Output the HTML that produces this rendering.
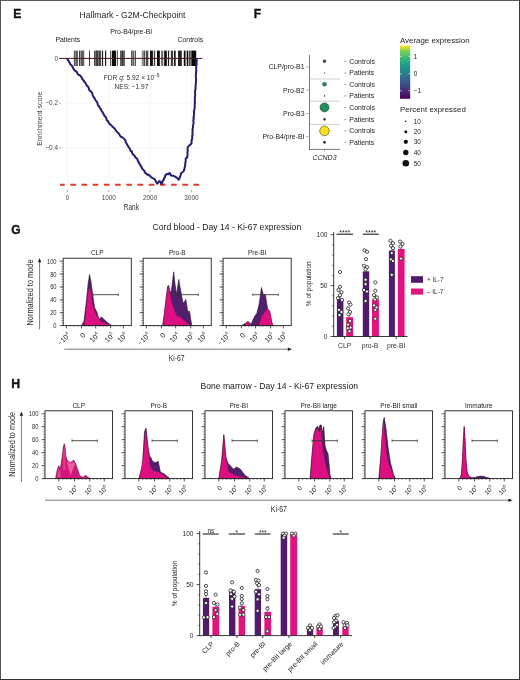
<!DOCTYPE html>
<html><head><meta charset="utf-8"><style>
html,body{margin:0;padding:0;background:#fff;}
body{width:520px;height:680px;overflow:hidden;}
svg{display:block;font-family:"Liberation Sans", sans-serif;will-change:transform;}
</style></head><body>
<svg width="520" height="680" viewBox="0 0 520 680">
<rect x="0" y="0" width="520" height="680" fill="#fff"/>
<text x="13.30" y="17.70" font-size="12" text-anchor="start" fill="#111" font-weight="bold" stroke="#111" stroke-width="0.35">E</text>
<text x="132.50" y="18.30" font-size="8.6" text-anchor="middle" fill="#1e1e1e" >Hallmark - G2M-Checkpoint</text>
<text x="131.20" y="34.40" font-size="6.9" text-anchor="middle" fill="#222" >Pro-B4/pre-BI</text>
<text x="55.40" y="42.00" font-size="6.9" text-anchor="start" fill="#1e1e1e" >Patients</text>
<text x="177.50" y="42.00" font-size="6.9" text-anchor="start" fill="#1e1e1e" >Controls</text>
<line x1="67.50" y1="45.00" x2="67.50" y2="192.00" stroke="#efefef" stroke-width="0.6" />
<line x1="108.80" y1="45.00" x2="108.80" y2="192.00" stroke="#efefef" stroke-width="0.6" />
<line x1="150.10" y1="45.00" x2="150.10" y2="192.00" stroke="#efefef" stroke-width="0.6" />
<line x1="191.40" y1="45.00" x2="191.40" y2="192.00" stroke="#efefef" stroke-width="0.6" />
<line x1="61.00" y1="103.10" x2="203.00" y2="103.10" stroke="#efefef" stroke-width="0.6" />
<line x1="61.00" y1="147.80" x2="203.00" y2="147.80" stroke="#efefef" stroke-width="0.6" />
<text x="58.00" y="60.60" font-size="6.4" text-anchor="end" fill="#444" >0</text>
<line x1="59.20" y1="58.40" x2="61.00" y2="58.40" stroke="#555" stroke-width="0.5" />
<text x="58.00" y="105.30" font-size="6.4" text-anchor="end" fill="#444" >−0.2</text>
<line x1="59.20" y1="103.10" x2="61.00" y2="103.10" stroke="#555" stroke-width="0.5" />
<text x="58.00" y="150.00" font-size="6.4" text-anchor="end" fill="#444" >−0.4</text>
<line x1="59.20" y1="147.80" x2="61.00" y2="147.80" stroke="#555" stroke-width="0.5" />
<text x="67.50" y="199.60" font-size="6.4" text-anchor="middle" fill="#444" >0</text>
<line x1="67.50" y1="190.20" x2="67.50" y2="192.20" stroke="#555" stroke-width="0.5" />
<text x="108.80" y="199.60" font-size="6.4" text-anchor="middle" fill="#444" >1000</text>
<line x1="108.80" y1="190.20" x2="108.80" y2="192.20" stroke="#555" stroke-width="0.5" />
<text x="150.10" y="199.60" font-size="6.4" text-anchor="middle" fill="#444" >2000</text>
<line x1="150.10" y1="190.20" x2="150.10" y2="192.20" stroke="#555" stroke-width="0.5" />
<text x="191.40" y="199.60" font-size="6.4" text-anchor="middle" fill="#444" >3000</text>
<line x1="191.40" y1="190.20" x2="191.40" y2="192.20" stroke="#555" stroke-width="0.5" />
<text x="131.30" y="210.10" font-size="8.2" text-anchor="middle" fill="#333" textLength="15.2" lengthAdjust="spacingAndGlyphs">Rank</text>
<text x="0.00" y="0.00" font-size="7.0" text-anchor="middle" fill="#444" transform="translate(41.6,118.6) rotate(-90)">Enrichment score</text>
<rect x="73.80" y="50.6" width="3.90" height="15.4" fill="#000" fill-opacity="0.45"/>
<rect x="74.40" y="50.6" width="0.50" height="15.4" fill="#000" fill-opacity="0.8"/>
<rect x="76.00" y="50.6" width="0.50" height="15.4" fill="#000" fill-opacity="0.8"/>
<rect x="77.10" y="50.6" width="0.50" height="15.4" fill="#000" fill-opacity="0.8"/>
<rect x="79.10" y="50.6" width="1.30" height="15.4" fill="#000" fill-opacity="0.85"/>
<rect x="80.80" y="50.6" width="3.40" height="15.4" fill="#000" fill-opacity="0.4"/>
<rect x="81.00" y="50.6" width="0.50" height="15.4" fill="#000" fill-opacity="0.8"/>
<rect x="82.50" y="50.6" width="0.50" height="15.4" fill="#000" fill-opacity="0.8"/>
<rect x="83.60" y="50.6" width="0.50" height="15.4" fill="#000" fill-opacity="0.8"/>
<rect x="89.10" y="50.6" width="0.90" height="15.4" fill="#000" fill-opacity="0.85"/>
<rect x="94.20" y="50.6" width="6.60" height="15.4" fill="#000" fill-opacity="0.55"/>
<rect x="94.50" y="50.6" width="0.50" height="15.4" fill="#000" fill-opacity="0.85"/>
<rect x="96.30" y="50.6" width="0.50" height="15.4" fill="#000" fill-opacity="0.85"/>
<rect x="97.50" y="50.6" width="0.50" height="15.4" fill="#000" fill-opacity="0.85"/>
<rect x="99.00" y="50.6" width="0.50" height="15.4" fill="#000" fill-opacity="0.85"/>
<rect x="100.20" y="50.6" width="0.50" height="15.4" fill="#000" fill-opacity="0.85"/>
<rect x="101.90" y="50.6" width="1.20" height="15.4" fill="#000" fill-opacity="0.9"/>
<rect x="105.00" y="50.6" width="1.20" height="15.4" fill="#000" fill-opacity="0.9"/>
<rect x="110.20" y="50.6" width="0.70" height="15.4" fill="#000" fill-opacity="0.9"/>
<rect x="111.80" y="50.6" width="4.30" height="15.4" fill="#000" fill-opacity="0.95"/>
<rect x="117.10" y="50.6" width="0.70" height="15.4" fill="#000" fill-opacity="0.9"/>
<rect x="120.30" y="50.6" width="4.20" height="15.4" fill="#000" fill-opacity="0.6"/>
<rect x="120.60" y="50.6" width="0.50" height="15.4" fill="#000" fill-opacity="0.9"/>
<rect x="122.10" y="50.6" width="0.50" height="15.4" fill="#000" fill-opacity="0.9"/>
<rect x="124.00" y="50.6" width="0.50" height="15.4" fill="#000" fill-opacity="0.9"/>
<rect x="131.10" y="50.6" width="3.10" height="15.4" fill="#000" fill-opacity="0.45"/>
<rect x="131.30" y="50.6" width="0.50" height="15.4" fill="#000" fill-opacity="0.8"/>
<rect x="133.60" y="50.6" width="0.50" height="15.4" fill="#000" fill-opacity="0.8"/>
<rect x="134.90" y="50.6" width="0.90" height="15.4" fill="#000" fill-opacity="0.85"/>
<rect x="141.80" y="50.6" width="3.10" height="15.4" fill="#000" fill-opacity="0.45"/>
<rect x="144.20" y="50.6" width="0.60" height="15.4" fill="#000" fill-opacity="0.8"/>
<rect x="145.70" y="50.6" width="2.60" height="15.4" fill="#000" fill-opacity="0.7"/>
<rect x="150.00" y="50.6" width="2.90" height="15.4" fill="#000" fill-opacity="0.92"/>
<rect x="153.80" y="50.6" width="1.40" height="15.4" fill="#000" fill-opacity="0.75"/>
<rect x="157.00" y="50.6" width="2.80" height="15.4" fill="#000" fill-opacity="0.97"/>
<rect x="161.00" y="50.6" width="2.30" height="15.4" fill="#000" fill-opacity="0.55"/>
<rect x="164.20" y="50.6" width="2.60" height="15.4" fill="#000" fill-opacity="0.97"/>
<rect x="167.90" y="50.6" width="1.20" height="15.4" fill="#000" fill-opacity="0.9"/>
<rect x="170.80" y="50.6" width="2.30" height="15.4" fill="#000" fill-opacity="0.75"/>
<rect x="174.00" y="50.6" width="1.70" height="15.4" fill="#000" fill-opacity="0.9"/>
<rect x="178.00" y="50.6" width="3.80" height="15.4" fill="#000" fill-opacity="0.85"/>
<rect x="183.80" y="50.6" width="1.70" height="15.4" fill="#000" fill-opacity="0.97"/>
<rect x="186.70" y="50.6" width="1.40" height="15.4" fill="#000" fill-opacity="0.97"/>
<rect x="188.70" y="50.6" width="2.00" height="15.4" fill="#000" fill-opacity="0.7"/>
<rect x="191.30" y="50.6" width="4.90" height="15.4" fill="#000" fill-opacity="0.97"/>
<line x1="59.20" y1="58.40" x2="202.40" y2="58.40" stroke="#4a1818" stroke-width="1.0" />
<line x1="60.00" y1="184.70" x2="200.00" y2="184.70" stroke="#e23a2a" stroke-width="1.9" stroke-dasharray="5.6,5.6" stroke-dashoffset="0.9"/>
<polyline points="66.90,58.40 67.62,59.52 68.34,60.64 69.06,61.76 69.57,62.63 70.24,64.21 71.10,65.18 71.87,65.65 72.51,66.75 72.99,67.93 74.11,69.56 74.43,70.27 76.27,71.38 76.94,72.41 77.73,74.07 78.87,75.00 79.57,75.05 80.79,76.33 81.45,77.20 82.12,78.89 82.74,79.82 83.62,80.18 84.56,82.23 85.45,82.89 86.08,84.26 87.12,85.91 87.76,86.28 88.65,87.82 89.02,89.25 89.63,90.74 90.73,91.10 91.28,91.87 92.10,92.85 92.71,95.12 93.22,96.53 94.06,97.52 94.64,98.61 95.60,100.23 96.10,100.96 96.79,101.63 97.63,103.71 97.87,105.20 98.77,105.84 99.31,106.58 99.77,108.04 100.91,109.13 101.35,110.48 102.47,112.10 102.97,112.91 103.98,114.69 104.72,116.20 105.20,116.56 106.23,117.80 106.62,120.14 107.51,120.55 108.49,122.13 109.51,124.07 110.75,124.71 111.94,125.92 113.11,127.43 114.27,128.02 115.13,129.45 116.43,131.03 117.31,132.26 117.94,132.85 119.01,133.74 119.61,134.99 120.60,136.49 122.23,137.28 123.34,138.05 124.52,139.44 125.50,140.54 125.75,142.56 126.55,143.25 127.09,144.61 128.30,146.49 128.71,147.12 129.19,147.75 130.01,149.28 130.66,151.13 131.85,151.17 132.09,153.04 133.12,154.56 134.79,156.04 135.42,157.58 136.02,157.80 137.06,158.73 137.84,160.57 138.28,161.61 139.52,163.61 140.18,164.99 140.89,166.32 141.51,166.87 141.97,168.42 142.87,169.34 144.12,170.66 144.97,172.64 146.29,173.61 147.17,174.64 148.34,174.61 149.47,175.53 151.04,177.07 152.49,177.98 153.68,178.71 154.60,178.92 156.17,182.07 157.29,183.65 159.17,181.05 160.38,181.57 160.99,183.46 162.17,183.66 162.24,182.68 162.76,180.41 163.68,180.07 164.30,177.64 164.79,177.44 165.33,175.19 166.71,173.98 168.24,174.31 169.56,172.84 170.37,173.81 170.83,175.46 173.08,175.65 174.60,176.34 175.85,177.06 177.45,178.18 178.47,179.80 179.49,178.37 180.25,176.39 180.62,174.95 180.91,173.43 182.31,172.32 183.98,170.71 184.06,169.66 184.39,169.16 184.65,167.32 185.09,166.36 185.24,164.45 185.19,163.29 185.44,162.66 185.72,161.01 185.65,160.14 185.80,158.36 187.22,157.52 187.22,156.02 187.56,154.64 187.63,153.54 187.36,152.46 187.87,150.51 187.48,149.49 187.77,147.07 189.34,145.40 191.20,143.70 191.52,143.28 191.60,140.99 191.44,140.28 192.12,139.18 192.30,136.84 192.21,135.67 192.60,135.09 192.47,132.58 192.53,131.74 192.63,129.95 192.57,129.34 192.94,127.76 192.98,125.67 193.21,125.17 193.57,123.09 193.65,122.80 193.31,120.55 193.70,119.16 193.39,118.18 193.95,117.09 193.66,116.32 194.15,114.06 194.12,113.33 193.83,111.33 194.16,110.85 194.56,108.66 194.58,108.13 194.71,106.03 194.82,104.69 194.60,103.90 195.06,102.72 194.68,101.00 194.84,100.04 194.86,98.09 194.95,96.64 195.07,95.65 195.13,94.91 195.12,93.18 195.09,91.60 195.15,90.11 195.54,89.42 195.56,87.29 195.40,86.97 195.66,85.45 195.94,83.64 195.79,82.14 196.12,81.19 196.07,79.35 196.00,78.50 195.87,76.72 195.78,74.88 196.19,73.54 195.88,72.44 196.33,70.85 196.27,70.59 196.06,68.41 196.23,67.07 196.27,65.52 196.68,64.15 196.53,63.62 196.60,61.44 196.70,59.92 196.80,58.40" fill="none" stroke="#221e70" stroke-width="2.0" stroke-linejoin="round" />
<text x="131.60" y="80.00" font-size="6.6" text-anchor="middle" fill="#333" >FDR <tspan font-style="italic">q</tspan>: 5.92 × 10<tspan dy="-2.6" font-size="4.6">−9</tspan></text>
<text x="131.50" y="88.60" font-size="6.6" text-anchor="middle" fill="#333" >NES: −1.97</text>
<text x="253.80" y="17.60" font-size="12" text-anchor="start" fill="#111" font-weight="bold" stroke="#111" stroke-width="0.35">F</text>
<line x1="309.50" y1="55.00" x2="309.50" y2="149.40" stroke="#555" stroke-width="0.8" />
<line x1="309.10" y1="149.40" x2="340.00" y2="149.40" stroke="#555" stroke-width="0.8" />
<line x1="324.50" y1="149.40" x2="324.50" y2="151.30" stroke="#555" stroke-width="0.6" />
<line x1="309.50" y1="79.00" x2="340.00" y2="79.00" stroke="#a8a8a8" stroke-width="0.55" />
<line x1="309.50" y1="101.20" x2="340.00" y2="101.20" stroke="#a8a8a8" stroke-width="0.55" />
<line x1="309.50" y1="124.40" x2="340.00" y2="124.40" stroke="#a8a8a8" stroke-width="0.55" />
<text x="304.50" y="69.30" font-size="6.9" text-anchor="end" fill="#222" >CLP/pro-B1</text>
<line x1="306.30" y1="66.90" x2="308.50" y2="66.90" stroke="#444" stroke-width="0.5" />
<text x="304.50" y="92.50" font-size="6.9" text-anchor="end" fill="#222" >Pro-B2</text>
<line x1="306.30" y1="90.10" x2="308.50" y2="90.10" stroke="#444" stroke-width="0.5" />
<text x="304.50" y="115.90" font-size="6.9" text-anchor="end" fill="#222" >Pro-B3</text>
<line x1="306.30" y1="113.50" x2="308.50" y2="113.50" stroke="#444" stroke-width="0.5" />
<text x="304.50" y="138.80" font-size="6.9" text-anchor="end" fill="#222" >Pro-B4/pre-BI</text>
<line x1="306.30" y1="136.40" x2="308.50" y2="136.40" stroke="#444" stroke-width="0.5" />
<line x1="344.30" y1="61.30" x2="346.50" y2="61.30" stroke="#444" stroke-width="0.5" />
<text x="349.30" y="63.70" font-size="6.9" text-anchor="start" fill="#222" >Controls</text>
<line x1="344.30" y1="72.90" x2="346.50" y2="72.90" stroke="#444" stroke-width="0.5" />
<text x="349.30" y="75.30" font-size="6.9" text-anchor="start" fill="#222" >Patients</text>
<line x1="344.30" y1="84.30" x2="346.50" y2="84.30" stroke="#444" stroke-width="0.5" />
<text x="349.30" y="86.70" font-size="6.9" text-anchor="start" fill="#222" >Controls</text>
<line x1="344.30" y1="95.90" x2="346.50" y2="95.90" stroke="#444" stroke-width="0.5" />
<text x="349.30" y="98.30" font-size="6.9" text-anchor="start" fill="#222" >Patients</text>
<line x1="344.30" y1="107.40" x2="346.50" y2="107.40" stroke="#444" stroke-width="0.5" />
<text x="349.30" y="109.80" font-size="6.9" text-anchor="start" fill="#222" >Controls</text>
<line x1="344.30" y1="119.30" x2="346.50" y2="119.30" stroke="#444" stroke-width="0.5" />
<text x="349.30" y="121.70" font-size="6.9" text-anchor="start" fill="#222" >Patients</text>
<line x1="344.30" y1="130.90" x2="346.50" y2="130.90" stroke="#444" stroke-width="0.5" />
<text x="349.30" y="133.30" font-size="6.9" text-anchor="start" fill="#222" >Controls</text>
<line x1="344.30" y1="142.30" x2="346.50" y2="142.30" stroke="#444" stroke-width="0.5" />
<text x="349.30" y="144.70" font-size="6.9" text-anchor="start" fill="#222" >Patients</text>
<circle cx="324.5" cy="61.3" r="1.45" fill="#2b4f55" stroke="#222" stroke-width="0.35"/>
<circle cx="324.5" cy="72.9" r="0.45" fill="#5a5a6a" stroke="#222" stroke-width="0.35"/>
<circle cx="324.5" cy="84.3" r="2.05" fill="#1f8a5e" stroke="#222" stroke-width="0.35"/>
<circle cx="324.5" cy="95.9" r="0.55" fill="#4a4a70" stroke="#222" stroke-width="0.35"/>
<circle cx="324.5" cy="107.4" r="4.5" fill="#1c9359" stroke="#222" stroke-width="0.5"/>
<circle cx="324.5" cy="119.3" r="1.1" fill="#26283f" stroke="#222" stroke-width="0.35"/>
<circle cx="324.5" cy="130.9" r="4.8" fill="#f7e11b" stroke="#222" stroke-width="0.5"/>
<circle cx="324.5" cy="142.3" r="1.2" fill="#1e2d6c" stroke="#222" stroke-width="0.35"/>
<text x="324.50" y="160.10" font-size="7.0" text-anchor="middle" fill="#222" font-style="italic" >CCND3</text>
<text x="400.00" y="42.60" font-size="7.9" text-anchor="start" fill="#222" >Average expression</text>
<defs><linearGradient id="vir" x1="0" y1="1" x2="0" y2="0"><stop offset="0" stop-color="#440154"/><stop offset="0.13" stop-color="#482878"/><stop offset="0.25" stop-color="#3e4989"/><stop offset="0.38" stop-color="#31688e"/><stop offset="0.5" stop-color="#26828e"/><stop offset="0.63" stop-color="#1f9e89"/><stop offset="0.75" stop-color="#35b779"/><stop offset="0.88" stop-color="#6ece58"/><stop offset="1" stop-color="#fde725"/></linearGradient></defs>
<rect x="400" y="45.5" width="10.2" height="53.3" fill="url(#vir)"/>
<line x1="400.00" y1="56.30" x2="401.80" y2="56.30" stroke="#fff" stroke-width="0.6" />
<line x1="408.40" y1="56.30" x2="410.20" y2="56.30" stroke="#fff" stroke-width="0.6" />
<text x="413.80" y="58.60" font-size="6.4" text-anchor="start" fill="#222" >1</text>
<line x1="400.00" y1="73.80" x2="401.80" y2="73.80" stroke="#fff" stroke-width="0.6" />
<line x1="408.40" y1="73.80" x2="410.20" y2="73.80" stroke="#fff" stroke-width="0.6" />
<text x="413.80" y="76.10" font-size="6.4" text-anchor="start" fill="#222" >0</text>
<line x1="400.00" y1="90.80" x2="401.80" y2="90.80" stroke="#fff" stroke-width="0.6" />
<line x1="408.40" y1="90.80" x2="410.20" y2="90.80" stroke="#fff" stroke-width="0.6" />
<text x="413.80" y="93.10" font-size="6.4" text-anchor="start" fill="#222" >−1</text>
<text x="400.00" y="112.20" font-size="7.9" text-anchor="start" fill="#222" >Percent expressed</text>
<circle cx="405.8" cy="121.3" r="0.8" fill="#111"/>
<text x="413.80" y="123.60" font-size="6.4" text-anchor="start" fill="#222" >10</text>
<circle cx="405.8" cy="131.8" r="1.5" fill="#111"/>
<text x="413.80" y="134.10" font-size="6.4" text-anchor="start" fill="#222" >20</text>
<circle cx="405.8" cy="141.8" r="2.15" fill="#111"/>
<text x="413.80" y="144.10" font-size="6.4" text-anchor="start" fill="#222" >30</text>
<circle cx="405.8" cy="152.5" r="2.7" fill="#111"/>
<text x="413.80" y="154.80" font-size="6.4" text-anchor="start" fill="#222" >40</text>
<circle cx="405.8" cy="163.3" r="3.3" fill="#111"/>
<text x="413.80" y="165.60" font-size="6.4" text-anchor="start" fill="#222" >50</text>
<text x="11.30" y="233.90" font-size="12" text-anchor="start" fill="#111" font-weight="bold" stroke="#111" stroke-width="0.35">G</text>
<text x="226.90" y="230.30" font-size="8.6" text-anchor="middle" fill="#1a1a1a" >Cord blood - Day 14 - Ki-67 expression</text>
<polygon points="81.60,325.60 84.00,321.00 86.50,300.00 88.20,283.00 89.60,274.50 91.00,282.00 92.50,293.30 94.60,307.70 96.80,312.00 99.00,319.20 101.80,317.00 104.00,319.50 106.20,321.40 111.20,325.60" fill="#521e6e" stroke="#2a1030" stroke-width="0.6" stroke-linejoin="round" />
<polygon points="83.80,325.60 85.50,318.00 87.00,300.00 88.80,288.20 90.00,289.00 91.00,291.80 92.00,300.00 93.20,307.70 96.00,314.00 100.40,320.70 104.00,322.50 108.00,324.00 111.20,325.60" fill="#de0f80" stroke="#8a1050" stroke-width="0.4" stroke-linejoin="round" />
<line x1="92.90" y1="294.70" x2="118.40" y2="294.70" stroke="#333" stroke-width="0.85" />
<line x1="92.90" y1="293.30" x2="92.90" y2="296.10" stroke="#3a3a3a" stroke-width="0.7" />
<line x1="118.40" y1="293.30" x2="118.40" y2="296.10" stroke="#3a3a3a" stroke-width="0.7" />
<rect x="63.20" y="258.20" width="68.10" height="67.40" fill="none" stroke="#222" stroke-width="0.9"/>
<line x1="59.60" y1="325.60" x2="63.20" y2="325.60" stroke="#222" stroke-width="0.7" />
<text x="56.60" y="328.10" font-size="7.0" text-anchor="end" fill="#2a2a2a" textLength="3.23" lengthAdjust="spacingAndGlyphs">0</text>
<line x1="59.60" y1="312.72" x2="63.20" y2="312.72" stroke="#222" stroke-width="0.7" />
<text x="56.60" y="315.22" font-size="7.0" text-anchor="end" fill="#2a2a2a" textLength="6.46" lengthAdjust="spacingAndGlyphs">20</text>
<line x1="59.60" y1="299.84" x2="63.20" y2="299.84" stroke="#222" stroke-width="0.7" />
<text x="56.60" y="302.34" font-size="7.0" text-anchor="end" fill="#2a2a2a" textLength="6.46" lengthAdjust="spacingAndGlyphs">40</text>
<line x1="59.60" y1="286.96" x2="63.20" y2="286.96" stroke="#222" stroke-width="0.7" />
<text x="56.60" y="289.46" font-size="7.0" text-anchor="end" fill="#2a2a2a" textLength="6.46" lengthAdjust="spacingAndGlyphs">60</text>
<line x1="59.60" y1="274.08" x2="63.20" y2="274.08" stroke="#222" stroke-width="0.7" />
<text x="56.60" y="276.58" font-size="7.0" text-anchor="end" fill="#2a2a2a" textLength="6.46" lengthAdjust="spacingAndGlyphs">80</text>
<line x1="59.60" y1="261.20" x2="63.20" y2="261.20" stroke="#222" stroke-width="0.7" />
<text x="56.60" y="263.70" font-size="7.0" text-anchor="end" fill="#2a2a2a" textLength="9.69" lengthAdjust="spacingAndGlyphs">100</text>
<line x1="61.40" y1="325.60" x2="63.20" y2="325.60" stroke="#222" stroke-width="0.5" />
<line x1="61.40" y1="323.02" x2="63.20" y2="323.02" stroke="#222" stroke-width="0.5" />
<line x1="61.40" y1="320.45" x2="63.20" y2="320.45" stroke="#222" stroke-width="0.5" />
<line x1="61.40" y1="317.87" x2="63.20" y2="317.87" stroke="#222" stroke-width="0.5" />
<line x1="61.40" y1="315.30" x2="63.20" y2="315.30" stroke="#222" stroke-width="0.5" />
<line x1="61.40" y1="312.72" x2="63.20" y2="312.72" stroke="#222" stroke-width="0.5" />
<line x1="61.40" y1="310.14" x2="63.20" y2="310.14" stroke="#222" stroke-width="0.5" />
<line x1="61.40" y1="307.57" x2="63.20" y2="307.57" stroke="#222" stroke-width="0.5" />
<line x1="61.40" y1="304.99" x2="63.20" y2="304.99" stroke="#222" stroke-width="0.5" />
<line x1="61.40" y1="302.42" x2="63.20" y2="302.42" stroke="#222" stroke-width="0.5" />
<line x1="61.40" y1="299.84" x2="63.20" y2="299.84" stroke="#222" stroke-width="0.5" />
<line x1="61.40" y1="297.26" x2="63.20" y2="297.26" stroke="#222" stroke-width="0.5" />
<line x1="61.40" y1="294.69" x2="63.20" y2="294.69" stroke="#222" stroke-width="0.5" />
<line x1="61.40" y1="292.11" x2="63.20" y2="292.11" stroke="#222" stroke-width="0.5" />
<line x1="61.40" y1="289.54" x2="63.20" y2="289.54" stroke="#222" stroke-width="0.5" />
<line x1="61.40" y1="286.96" x2="63.20" y2="286.96" stroke="#222" stroke-width="0.5" />
<line x1="61.40" y1="284.38" x2="63.20" y2="284.38" stroke="#222" stroke-width="0.5" />
<line x1="61.40" y1="281.81" x2="63.20" y2="281.81" stroke="#222" stroke-width="0.5" />
<line x1="61.40" y1="279.23" x2="63.20" y2="279.23" stroke="#222" stroke-width="0.5" />
<line x1="61.40" y1="276.66" x2="63.20" y2="276.66" stroke="#222" stroke-width="0.5" />
<line x1="61.40" y1="274.08" x2="63.20" y2="274.08" stroke="#222" stroke-width="0.5" />
<line x1="61.40" y1="271.50" x2="63.20" y2="271.50" stroke="#222" stroke-width="0.5" />
<line x1="61.40" y1="268.93" x2="63.20" y2="268.93" stroke="#222" stroke-width="0.5" />
<line x1="61.40" y1="266.35" x2="63.20" y2="266.35" stroke="#222" stroke-width="0.5" />
<line x1="61.40" y1="263.78" x2="63.20" y2="263.78" stroke="#222" stroke-width="0.5" />
<line x1="66.40" y1="325.60" x2="66.40" y2="328.40" stroke="#222" stroke-width="0.8" />
<text font-size="7.2" fill="#2a2a2a" text-anchor="end" transform="translate(70.70,335.60) rotate(-45)">−10<tspan font-size="4.46" dy="-3.24">4</tspan></text>
<line x1="81.50" y1="325.60" x2="81.50" y2="328.40" stroke="#222" stroke-width="0.8" />
<text font-size="7.2" fill="#2a2a2a" text-anchor="end" transform="translate(85.80,335.60) rotate(-45)">0</text>
<line x1="95.70" y1="325.60" x2="95.70" y2="328.40" stroke="#222" stroke-width="0.8" />
<text font-size="7.2" fill="#2a2a2a" text-anchor="end" transform="translate(100.00,335.60) rotate(-45)">10<tspan font-size="4.46" dy="-3.24">4</tspan></text>
<line x1="110.70" y1="325.60" x2="110.70" y2="328.40" stroke="#222" stroke-width="0.8" />
<text font-size="7.2" fill="#2a2a2a" text-anchor="end" transform="translate(115.00,335.60) rotate(-45)">10<tspan font-size="4.46" dy="-3.24">5</tspan></text>
<line x1="123.40" y1="325.60" x2="123.40" y2="328.40" stroke="#222" stroke-width="0.8" />
<text font-size="7.2" fill="#2a2a2a" text-anchor="end" transform="translate(127.70,335.60) rotate(-45)">10<tspan font-size="4.46" dy="-3.24">6</tspan></text>
<line x1="70.18" y1="325.60" x2="70.18" y2="327.00" stroke="#222" stroke-width="0.4" />
<line x1="73.95" y1="325.60" x2="73.95" y2="327.00" stroke="#222" stroke-width="0.4" />
<line x1="77.72" y1="325.60" x2="77.72" y2="327.00" stroke="#222" stroke-width="0.4" />
<line x1="85.05" y1="325.60" x2="85.05" y2="327.00" stroke="#222" stroke-width="0.4" />
<line x1="88.60" y1="325.60" x2="88.60" y2="327.00" stroke="#222" stroke-width="0.4" />
<line x1="92.15" y1="325.60" x2="92.15" y2="327.00" stroke="#222" stroke-width="0.4" />
<line x1="99.45" y1="325.60" x2="99.45" y2="327.00" stroke="#222" stroke-width="0.4" />
<line x1="103.20" y1="325.60" x2="103.20" y2="327.00" stroke="#222" stroke-width="0.4" />
<line x1="106.95" y1="325.60" x2="106.95" y2="327.00" stroke="#222" stroke-width="0.4" />
<line x1="113.88" y1="325.60" x2="113.88" y2="327.00" stroke="#222" stroke-width="0.4" />
<line x1="117.05" y1="325.60" x2="117.05" y2="327.00" stroke="#222" stroke-width="0.4" />
<line x1="120.23" y1="325.60" x2="120.23" y2="327.00" stroke="#222" stroke-width="0.4" />
<text x="97.25" y="255.30" font-size="6.5" text-anchor="middle" fill="#222" >CLP</text>
<polygon points="162.60,325.60 164.50,312.00 165.90,300.00 167.70,286.00 168.60,285.50 170.20,293.00 171.50,290.00 173.70,271.80 175.00,284.00 176.50,294.60 177.50,288.00 178.80,279.40 180.20,288.00 181.60,295.50 183.00,303.00 184.50,302.00 185.80,299.30 186.80,305.00 187.60,311.30 189.50,311.30 190.50,318.00 191.80,325.60" fill="#521e6e" stroke="#2a1030" stroke-width="0.6" stroke-linejoin="round" />
<polygon points="163.10,325.60 165.00,308.00 167.30,290.00 168.90,286.80 170.50,296.00 172.00,303.00 174.00,309.00 176.00,314.00 178.00,317.00 180.00,316.00 182.00,318.50 185.00,321.00 188.00,323.50 191.30,325.60" fill="#de0f80" stroke="#8a1050" stroke-width="0.4" stroke-linejoin="round" />
<line x1="172.85" y1="294.70" x2="198.35" y2="294.70" stroke="#333" stroke-width="0.85" />
<line x1="172.85" y1="293.30" x2="172.85" y2="296.10" stroke="#3a3a3a" stroke-width="0.7" />
<line x1="198.35" y1="293.30" x2="198.35" y2="296.10" stroke="#3a3a3a" stroke-width="0.7" />
<rect x="143.15" y="258.20" width="68.10" height="67.40" fill="none" stroke="#222" stroke-width="0.9"/>
<line x1="139.55" y1="325.60" x2="143.15" y2="325.60" stroke="#222" stroke-width="0.7" />
<line x1="139.55" y1="312.72" x2="143.15" y2="312.72" stroke="#222" stroke-width="0.7" />
<line x1="139.55" y1="299.84" x2="143.15" y2="299.84" stroke="#222" stroke-width="0.7" />
<line x1="139.55" y1="286.96" x2="143.15" y2="286.96" stroke="#222" stroke-width="0.7" />
<line x1="139.55" y1="274.08" x2="143.15" y2="274.08" stroke="#222" stroke-width="0.7" />
<line x1="139.55" y1="261.20" x2="143.15" y2="261.20" stroke="#222" stroke-width="0.7" />
<line x1="141.35" y1="325.60" x2="143.15" y2="325.60" stroke="#222" stroke-width="0.5" />
<line x1="141.35" y1="323.02" x2="143.15" y2="323.02" stroke="#222" stroke-width="0.5" />
<line x1="141.35" y1="320.45" x2="143.15" y2="320.45" stroke="#222" stroke-width="0.5" />
<line x1="141.35" y1="317.87" x2="143.15" y2="317.87" stroke="#222" stroke-width="0.5" />
<line x1="141.35" y1="315.30" x2="143.15" y2="315.30" stroke="#222" stroke-width="0.5" />
<line x1="141.35" y1="312.72" x2="143.15" y2="312.72" stroke="#222" stroke-width="0.5" />
<line x1="141.35" y1="310.14" x2="143.15" y2="310.14" stroke="#222" stroke-width="0.5" />
<line x1="141.35" y1="307.57" x2="143.15" y2="307.57" stroke="#222" stroke-width="0.5" />
<line x1="141.35" y1="304.99" x2="143.15" y2="304.99" stroke="#222" stroke-width="0.5" />
<line x1="141.35" y1="302.42" x2="143.15" y2="302.42" stroke="#222" stroke-width="0.5" />
<line x1="141.35" y1="299.84" x2="143.15" y2="299.84" stroke="#222" stroke-width="0.5" />
<line x1="141.35" y1="297.26" x2="143.15" y2="297.26" stroke="#222" stroke-width="0.5" />
<line x1="141.35" y1="294.69" x2="143.15" y2="294.69" stroke="#222" stroke-width="0.5" />
<line x1="141.35" y1="292.11" x2="143.15" y2="292.11" stroke="#222" stroke-width="0.5" />
<line x1="141.35" y1="289.54" x2="143.15" y2="289.54" stroke="#222" stroke-width="0.5" />
<line x1="141.35" y1="286.96" x2="143.15" y2="286.96" stroke="#222" stroke-width="0.5" />
<line x1="141.35" y1="284.38" x2="143.15" y2="284.38" stroke="#222" stroke-width="0.5" />
<line x1="141.35" y1="281.81" x2="143.15" y2="281.81" stroke="#222" stroke-width="0.5" />
<line x1="141.35" y1="279.23" x2="143.15" y2="279.23" stroke="#222" stroke-width="0.5" />
<line x1="141.35" y1="276.66" x2="143.15" y2="276.66" stroke="#222" stroke-width="0.5" />
<line x1="141.35" y1="274.08" x2="143.15" y2="274.08" stroke="#222" stroke-width="0.5" />
<line x1="141.35" y1="271.50" x2="143.15" y2="271.50" stroke="#222" stroke-width="0.5" />
<line x1="141.35" y1="268.93" x2="143.15" y2="268.93" stroke="#222" stroke-width="0.5" />
<line x1="141.35" y1="266.35" x2="143.15" y2="266.35" stroke="#222" stroke-width="0.5" />
<line x1="141.35" y1="263.78" x2="143.15" y2="263.78" stroke="#222" stroke-width="0.5" />
<line x1="146.35" y1="325.60" x2="146.35" y2="328.40" stroke="#222" stroke-width="0.8" />
<text font-size="7.2" fill="#2a2a2a" text-anchor="end" transform="translate(150.65,335.60) rotate(-45)">−10<tspan font-size="4.46" dy="-3.24">4</tspan></text>
<line x1="161.45" y1="325.60" x2="161.45" y2="328.40" stroke="#222" stroke-width="0.8" />
<text font-size="7.2" fill="#2a2a2a" text-anchor="end" transform="translate(165.75,335.60) rotate(-45)">0</text>
<line x1="175.65" y1="325.60" x2="175.65" y2="328.40" stroke="#222" stroke-width="0.8" />
<text font-size="7.2" fill="#2a2a2a" text-anchor="end" transform="translate(179.95,335.60) rotate(-45)">10<tspan font-size="4.46" dy="-3.24">4</tspan></text>
<line x1="190.65" y1="325.60" x2="190.65" y2="328.40" stroke="#222" stroke-width="0.8" />
<text font-size="7.2" fill="#2a2a2a" text-anchor="end" transform="translate(194.95,335.60) rotate(-45)">10<tspan font-size="4.46" dy="-3.24">5</tspan></text>
<line x1="203.35" y1="325.60" x2="203.35" y2="328.40" stroke="#222" stroke-width="0.8" />
<text font-size="7.2" fill="#2a2a2a" text-anchor="end" transform="translate(207.65,335.60) rotate(-45)">10<tspan font-size="4.46" dy="-3.24">6</tspan></text>
<line x1="150.12" y1="325.60" x2="150.12" y2="327.00" stroke="#222" stroke-width="0.4" />
<line x1="153.90" y1="325.60" x2="153.90" y2="327.00" stroke="#222" stroke-width="0.4" />
<line x1="157.68" y1="325.60" x2="157.68" y2="327.00" stroke="#222" stroke-width="0.4" />
<line x1="165.00" y1="325.60" x2="165.00" y2="327.00" stroke="#222" stroke-width="0.4" />
<line x1="168.55" y1="325.60" x2="168.55" y2="327.00" stroke="#222" stroke-width="0.4" />
<line x1="172.10" y1="325.60" x2="172.10" y2="327.00" stroke="#222" stroke-width="0.4" />
<line x1="179.40" y1="325.60" x2="179.40" y2="327.00" stroke="#222" stroke-width="0.4" />
<line x1="183.15" y1="325.60" x2="183.15" y2="327.00" stroke="#222" stroke-width="0.4" />
<line x1="186.90" y1="325.60" x2="186.90" y2="327.00" stroke="#222" stroke-width="0.4" />
<line x1="193.83" y1="325.60" x2="193.83" y2="327.00" stroke="#222" stroke-width="0.4" />
<line x1="197.00" y1="325.60" x2="197.00" y2="327.00" stroke="#222" stroke-width="0.4" />
<line x1="200.18" y1="325.60" x2="200.18" y2="327.00" stroke="#222" stroke-width="0.4" />
<text x="177.20" y="255.30" font-size="6.5" text-anchor="middle" fill="#222" >Pro-B</text>
<polygon points="241.60,325.60 245.20,323.60 248.10,321.40 251.00,324.30 254.60,316.30 256.80,313.50 259.00,304.80 261.50,287.50 263.30,294.70 265.40,294.70 267.60,309.10 269.80,311.30 271.90,323.60 273.40,325.60" fill="#521e6e" stroke="#2a1030" stroke-width="0.6" stroke-linejoin="round" />
<polygon points="244.50,325.60 248.10,321.40 250.30,325.00 259.00,325.00 261.10,317.80 264.70,312.00 267.60,308.40 269.80,312.00 271.90,322.10 273.40,325.60" fill="#de0f80" stroke="#8a1050" stroke-width="0.4" stroke-linejoin="round" />
<line x1="252.80" y1="294.70" x2="278.30" y2="294.70" stroke="#333" stroke-width="0.85" />
<line x1="252.80" y1="293.30" x2="252.80" y2="296.10" stroke="#3a3a3a" stroke-width="0.7" />
<line x1="278.30" y1="293.30" x2="278.30" y2="296.10" stroke="#3a3a3a" stroke-width="0.7" />
<rect x="223.10" y="258.20" width="68.10" height="67.40" fill="none" stroke="#222" stroke-width="0.9"/>
<line x1="219.50" y1="325.60" x2="223.10" y2="325.60" stroke="#222" stroke-width="0.7" />
<line x1="219.50" y1="312.72" x2="223.10" y2="312.72" stroke="#222" stroke-width="0.7" />
<line x1="219.50" y1="299.84" x2="223.10" y2="299.84" stroke="#222" stroke-width="0.7" />
<line x1="219.50" y1="286.96" x2="223.10" y2="286.96" stroke="#222" stroke-width="0.7" />
<line x1="219.50" y1="274.08" x2="223.10" y2="274.08" stroke="#222" stroke-width="0.7" />
<line x1="219.50" y1="261.20" x2="223.10" y2="261.20" stroke="#222" stroke-width="0.7" />
<line x1="221.30" y1="325.60" x2="223.10" y2="325.60" stroke="#222" stroke-width="0.5" />
<line x1="221.30" y1="323.02" x2="223.10" y2="323.02" stroke="#222" stroke-width="0.5" />
<line x1="221.30" y1="320.45" x2="223.10" y2="320.45" stroke="#222" stroke-width="0.5" />
<line x1="221.30" y1="317.87" x2="223.10" y2="317.87" stroke="#222" stroke-width="0.5" />
<line x1="221.30" y1="315.30" x2="223.10" y2="315.30" stroke="#222" stroke-width="0.5" />
<line x1="221.30" y1="312.72" x2="223.10" y2="312.72" stroke="#222" stroke-width="0.5" />
<line x1="221.30" y1="310.14" x2="223.10" y2="310.14" stroke="#222" stroke-width="0.5" />
<line x1="221.30" y1="307.57" x2="223.10" y2="307.57" stroke="#222" stroke-width="0.5" />
<line x1="221.30" y1="304.99" x2="223.10" y2="304.99" stroke="#222" stroke-width="0.5" />
<line x1="221.30" y1="302.42" x2="223.10" y2="302.42" stroke="#222" stroke-width="0.5" />
<line x1="221.30" y1="299.84" x2="223.10" y2="299.84" stroke="#222" stroke-width="0.5" />
<line x1="221.30" y1="297.26" x2="223.10" y2="297.26" stroke="#222" stroke-width="0.5" />
<line x1="221.30" y1="294.69" x2="223.10" y2="294.69" stroke="#222" stroke-width="0.5" />
<line x1="221.30" y1="292.11" x2="223.10" y2="292.11" stroke="#222" stroke-width="0.5" />
<line x1="221.30" y1="289.54" x2="223.10" y2="289.54" stroke="#222" stroke-width="0.5" />
<line x1="221.30" y1="286.96" x2="223.10" y2="286.96" stroke="#222" stroke-width="0.5" />
<line x1="221.30" y1="284.38" x2="223.10" y2="284.38" stroke="#222" stroke-width="0.5" />
<line x1="221.30" y1="281.81" x2="223.10" y2="281.81" stroke="#222" stroke-width="0.5" />
<line x1="221.30" y1="279.23" x2="223.10" y2="279.23" stroke="#222" stroke-width="0.5" />
<line x1="221.30" y1="276.66" x2="223.10" y2="276.66" stroke="#222" stroke-width="0.5" />
<line x1="221.30" y1="274.08" x2="223.10" y2="274.08" stroke="#222" stroke-width="0.5" />
<line x1="221.30" y1="271.50" x2="223.10" y2="271.50" stroke="#222" stroke-width="0.5" />
<line x1="221.30" y1="268.93" x2="223.10" y2="268.93" stroke="#222" stroke-width="0.5" />
<line x1="221.30" y1="266.35" x2="223.10" y2="266.35" stroke="#222" stroke-width="0.5" />
<line x1="221.30" y1="263.78" x2="223.10" y2="263.78" stroke="#222" stroke-width="0.5" />
<line x1="226.30" y1="325.60" x2="226.30" y2="328.40" stroke="#222" stroke-width="0.8" />
<text font-size="7.2" fill="#2a2a2a" text-anchor="end" transform="translate(230.60,335.60) rotate(-45)">−10<tspan font-size="4.46" dy="-3.24">4</tspan></text>
<line x1="241.40" y1="325.60" x2="241.40" y2="328.40" stroke="#222" stroke-width="0.8" />
<text font-size="7.2" fill="#2a2a2a" text-anchor="end" transform="translate(245.70,335.60) rotate(-45)">0</text>
<line x1="255.60" y1="325.60" x2="255.60" y2="328.40" stroke="#222" stroke-width="0.8" />
<text font-size="7.2" fill="#2a2a2a" text-anchor="end" transform="translate(259.90,335.60) rotate(-45)">10<tspan font-size="4.46" dy="-3.24">4</tspan></text>
<line x1="270.60" y1="325.60" x2="270.60" y2="328.40" stroke="#222" stroke-width="0.8" />
<text font-size="7.2" fill="#2a2a2a" text-anchor="end" transform="translate(274.90,335.60) rotate(-45)">10<tspan font-size="4.46" dy="-3.24">5</tspan></text>
<line x1="283.30" y1="325.60" x2="283.30" y2="328.40" stroke="#222" stroke-width="0.8" />
<text font-size="7.2" fill="#2a2a2a" text-anchor="end" transform="translate(287.60,335.60) rotate(-45)">10<tspan font-size="4.46" dy="-3.24">6</tspan></text>
<line x1="230.07" y1="325.60" x2="230.07" y2="327.00" stroke="#222" stroke-width="0.4" />
<line x1="233.85" y1="325.60" x2="233.85" y2="327.00" stroke="#222" stroke-width="0.4" />
<line x1="237.62" y1="325.60" x2="237.62" y2="327.00" stroke="#222" stroke-width="0.4" />
<line x1="244.95" y1="325.60" x2="244.95" y2="327.00" stroke="#222" stroke-width="0.4" />
<line x1="248.50" y1="325.60" x2="248.50" y2="327.00" stroke="#222" stroke-width="0.4" />
<line x1="252.05" y1="325.60" x2="252.05" y2="327.00" stroke="#222" stroke-width="0.4" />
<line x1="259.35" y1="325.60" x2="259.35" y2="327.00" stroke="#222" stroke-width="0.4" />
<line x1="263.10" y1="325.60" x2="263.10" y2="327.00" stroke="#222" stroke-width="0.4" />
<line x1="266.85" y1="325.60" x2="266.85" y2="327.00" stroke="#222" stroke-width="0.4" />
<line x1="273.78" y1="325.60" x2="273.78" y2="327.00" stroke="#222" stroke-width="0.4" />
<line x1="276.95" y1="325.60" x2="276.95" y2="327.00" stroke="#222" stroke-width="0.4" />
<line x1="280.12" y1="325.60" x2="280.12" y2="327.00" stroke="#222" stroke-width="0.4" />
<text x="257.15" y="255.30" font-size="6.5" text-anchor="middle" fill="#222" >Pre-BI</text>
<line x1="39.60" y1="329.40" x2="39.60" y2="261.00" stroke="#444" stroke-width="0.7" />
<polygon points="39.60,258.00 37.90,262.20 41.30,262.20" fill="#222" stroke="none" stroke-width="0.6" stroke-linejoin="round" />
<line x1="64.40" y1="349.20" x2="289.00" y2="349.20" stroke="#444" stroke-width="0.7" />
<polygon points="292.00,349.20 287.80,347.50 287.80,350.90" fill="#222" stroke="none" stroke-width="0.6" stroke-linejoin="round" />
<text x="0.00" y="0.00" font-size="8.6" text-anchor="middle" fill="#2a2a2a" textLength="66" lengthAdjust="spacingAndGlyphs" transform="translate(32.8,292.5) rotate(-90)">Normalized to mode</text>
<text x="176.70" y="360.60" font-size="8.6" text-anchor="middle" fill="#2a2a2a" textLength="15.9" lengthAdjust="spacingAndGlyphs">Ki-67</text>
<rect x="336.90" y="298.83" width="6.50" height="37.67" fill="#521a6c"/>
<line x1="340.15" y1="298.83" x2="340.15" y2="295.33" stroke="#333" stroke-width="0.6" />
<line x1="338.55" y1="295.33" x2="341.75" y2="295.33" stroke="#333" stroke-width="0.6" />
<rect x="346.20" y="317.16" width="6.90" height="19.34" fill="#e2137f"/>
<line x1="349.65" y1="317.16" x2="349.65" y2="314.66" stroke="#333" stroke-width="0.6" />
<line x1="348.05" y1="314.66" x2="351.25" y2="314.66" stroke="#333" stroke-width="0.6" />
<rect x="362.80" y="271.35" width="6.40" height="65.15" fill="#521a6c"/>
<line x1="366.00" y1="271.35" x2="366.00" y2="267.35" stroke="#333" stroke-width="0.6" />
<line x1="364.40" y1="267.35" x2="367.60" y2="267.35" stroke="#333" stroke-width="0.6" />
<rect x="372.00" y="299.34" width="6.90" height="37.16" fill="#e2137f"/>
<line x1="375.45" y1="299.34" x2="375.45" y2="296.34" stroke="#333" stroke-width="0.6" />
<line x1="373.85" y1="296.34" x2="377.05" y2="296.34" stroke="#333" stroke-width="0.6" />
<rect x="388.90" y="250.48" width="6.00" height="86.02" fill="#521a6c"/>
<line x1="391.90" y1="250.48" x2="391.90" y2="246.98" stroke="#333" stroke-width="0.6" />
<line x1="390.30" y1="246.98" x2="393.50" y2="246.98" stroke="#333" stroke-width="0.6" />
<rect x="397.80" y="248.95" width="6.80" height="87.55" fill="#e2137f"/>
<line x1="401.20" y1="248.95" x2="401.20" y2="246.45" stroke="#333" stroke-width="0.6" />
<line x1="399.60" y1="246.45" x2="402.80" y2="246.45" stroke="#333" stroke-width="0.6" />
<circle cx="340.00" cy="272.00" r="1.6" fill="#fff" stroke="#222" stroke-width="0.8"/>
<circle cx="340.00" cy="286.80" r="1.6" fill="#fff" stroke="#222" stroke-width="0.8"/>
<circle cx="338.50" cy="290.00" r="1.6" fill="#fff" stroke="#222" stroke-width="0.8"/>
<circle cx="341.50" cy="292.20" r="1.6" fill="#fff" stroke="#222" stroke-width="0.8"/>
<circle cx="340.00" cy="295.10" r="1.6" fill="#fff" stroke="#222" stroke-width="0.8"/>
<circle cx="338.00" cy="298.10" r="1.6" fill="#fff" stroke="#222" stroke-width="0.8"/>
<circle cx="342.00" cy="300.00" r="1.6" fill="#fff" stroke="#222" stroke-width="0.8"/>
<circle cx="339.00" cy="309.90" r="1.6" fill="#fff" stroke="#222" stroke-width="0.8"/>
<circle cx="341.50" cy="312.00" r="1.6" fill="#fff" stroke="#222" stroke-width="0.8"/>
<circle cx="339.50" cy="315.00" r="1.6" fill="#fff" stroke="#222" stroke-width="0.8"/>
<circle cx="349.10" cy="302.50" r="1.6" fill="#fff" stroke="#222" stroke-width="0.8"/>
<circle cx="350.50" cy="304.70" r="1.6" fill="#fff" stroke="#222" stroke-width="0.8"/>
<circle cx="348.00" cy="308.40" r="1.6" fill="#fff" stroke="#222" stroke-width="0.8"/>
<circle cx="350.00" cy="312.00" r="1.6" fill="#fff" stroke="#222" stroke-width="0.8"/>
<circle cx="348.50" cy="314.30" r="1.6" fill="#fff" stroke="#222" stroke-width="0.8"/>
<circle cx="350.00" cy="320.90" r="1.6" fill="#fff" stroke="#222" stroke-width="0.8"/>
<circle cx="348.00" cy="324.60" r="1.6" fill="#fff" stroke="#222" stroke-width="0.8"/>
<circle cx="350.50" cy="327.50" r="1.6" fill="#fff" stroke="#222" stroke-width="0.8"/>
<circle cx="347.80" cy="328.20" r="1.6" fill="#fff" stroke="#222" stroke-width="0.8"/>
<circle cx="349.50" cy="331.20" r="1.6" fill="#fff" stroke="#222" stroke-width="0.8"/>
<circle cx="364.50" cy="250.30" r="1.6" fill="#fff" stroke="#222" stroke-width="0.8"/>
<circle cx="367.00" cy="251.80" r="1.6" fill="#fff" stroke="#222" stroke-width="0.8"/>
<circle cx="366.00" cy="259.10" r="1.6" fill="#fff" stroke="#222" stroke-width="0.8"/>
<circle cx="364.00" cy="265.70" r="1.6" fill="#fff" stroke="#222" stroke-width="0.8"/>
<circle cx="367.00" cy="267.20" r="1.6" fill="#fff" stroke="#222" stroke-width="0.8"/>
<circle cx="365.60" cy="269.40" r="1.6" fill="#fff" stroke="#222" stroke-width="0.8"/>
<circle cx="365.60" cy="279.70" r="1.6" fill="#fff" stroke="#222" stroke-width="0.8"/>
<circle cx="365.60" cy="284.10" r="1.6" fill="#fff" stroke="#222" stroke-width="0.8"/>
<circle cx="364.00" cy="290.00" r="1.6" fill="#fff" stroke="#222" stroke-width="0.8"/>
<circle cx="367.00" cy="291.50" r="1.6" fill="#fff" stroke="#222" stroke-width="0.8"/>
<circle cx="365.60" cy="301.00" r="1.6" fill="#fff" stroke="#222" stroke-width="0.8"/>
<circle cx="375.30" cy="282.40" r="1.6" fill="#fff" stroke="#222" stroke-width="0.8"/>
<circle cx="375.30" cy="290.70" r="1.6" fill="#fff" stroke="#222" stroke-width="0.8"/>
<circle cx="374.00" cy="295.10" r="1.6" fill="#fff" stroke="#222" stroke-width="0.8"/>
<circle cx="377.00" cy="297.40" r="1.6" fill="#fff" stroke="#222" stroke-width="0.8"/>
<circle cx="375.00" cy="299.60" r="1.6" fill="#fff" stroke="#222" stroke-width="0.8"/>
<circle cx="374.00" cy="305.40" r="1.6" fill="#fff" stroke="#222" stroke-width="0.8"/>
<circle cx="376.50" cy="307.60" r="1.6" fill="#fff" stroke="#222" stroke-width="0.8"/>
<circle cx="375.30" cy="309.90" r="1.6" fill="#fff" stroke="#222" stroke-width="0.8"/>
<circle cx="375.30" cy="318.70" r="1.6" fill="#fff" stroke="#222" stroke-width="0.8"/>
<circle cx="390.50" cy="240.80" r="1.6" fill="#fff" stroke="#222" stroke-width="0.8"/>
<circle cx="393.00" cy="243.20" r="1.6" fill="#fff" stroke="#222" stroke-width="0.8"/>
<circle cx="391.00" cy="245.70" r="1.6" fill="#fff" stroke="#222" stroke-width="0.8"/>
<circle cx="393.00" cy="248.10" r="1.6" fill="#fff" stroke="#222" stroke-width="0.8"/>
<circle cx="391.80" cy="253.00" r="1.6" fill="#fff" stroke="#222" stroke-width="0.8"/>
<circle cx="391.00" cy="259.40" r="1.6" fill="#fff" stroke="#222" stroke-width="0.8"/>
<circle cx="393.00" cy="261.00" r="1.6" fill="#fff" stroke="#222" stroke-width="0.8"/>
<circle cx="391.80" cy="274.80" r="1.6" fill="#fff" stroke="#222" stroke-width="0.8"/>
<circle cx="400.00" cy="241.60" r="1.6" fill="#fff" stroke="#222" stroke-width="0.8"/>
<circle cx="402.50" cy="244.00" r="1.6" fill="#fff" stroke="#222" stroke-width="0.8"/>
<circle cx="400.50" cy="246.50" r="1.6" fill="#fff" stroke="#222" stroke-width="0.8"/>
<circle cx="401.00" cy="258.60" r="1.6" fill="#fff" stroke="#222" stroke-width="0.8"/>
<line x1="333.70" y1="232.10" x2="333.70" y2="336.90" stroke="#222" stroke-width="0.9" />
<line x1="333.30" y1="336.50" x2="407.50" y2="336.50" stroke="#222" stroke-width="0.9" />
<line x1="330.50" y1="336.50" x2="333.70" y2="336.50" stroke="#222" stroke-width="0.8" />
<text x="327.50" y="338.85" font-size="6.6" text-anchor="end" fill="#2a2a2a" >0</text>
<line x1="330.50" y1="285.60" x2="333.70" y2="285.60" stroke="#222" stroke-width="0.8" />
<text x="327.50" y="287.95" font-size="6.6" text-anchor="end" fill="#2a2a2a" >50</text>
<line x1="330.50" y1="234.70" x2="333.70" y2="234.70" stroke="#222" stroke-width="0.8" />
<text x="327.50" y="237.05" font-size="6.6" text-anchor="end" fill="#2a2a2a" >100</text>
<line x1="331.90" y1="326.32" x2="333.70" y2="326.32" stroke="#222" stroke-width="0.5" />
<line x1="331.90" y1="316.14" x2="333.70" y2="316.14" stroke="#222" stroke-width="0.5" />
<line x1="331.90" y1="305.96" x2="333.70" y2="305.96" stroke="#222" stroke-width="0.5" />
<line x1="331.90" y1="295.78" x2="333.70" y2="295.78" stroke="#222" stroke-width="0.5" />
<line x1="331.90" y1="275.42" x2="333.70" y2="275.42" stroke="#222" stroke-width="0.5" />
<line x1="331.90" y1="265.24" x2="333.70" y2="265.24" stroke="#222" stroke-width="0.5" />
<line x1="331.90" y1="255.06" x2="333.70" y2="255.06" stroke="#222" stroke-width="0.5" />
<line x1="331.90" y1="244.88" x2="333.70" y2="244.88" stroke="#222" stroke-width="0.5" />
<line x1="336.50" y1="234.20" x2="353.00" y2="234.20" stroke="#222" stroke-width="1.1" />
<text x="344.75" y="235.20" font-size="7.0" text-anchor="middle" fill="#222" >****</text>
<line x1="362.80" y1="234.20" x2="378.80" y2="234.20" stroke="#222" stroke-width="1.1" />
<text x="370.80" y="235.20" font-size="7.0" text-anchor="middle" fill="#222" >****</text>
<line x1="344.70" y1="336.50" x2="344.70" y2="339.00" stroke="#222" stroke-width="0.8" />
<text x="344.70" y="347.60" font-size="6.8" text-anchor="middle" fill="#333" >CLP</text>
<line x1="370.00" y1="336.50" x2="370.00" y2="339.00" stroke="#222" stroke-width="0.8" />
<text x="370.00" y="347.60" font-size="6.8" text-anchor="middle" fill="#333" >pro-B</text>
<line x1="396.20" y1="336.50" x2="396.20" y2="339.00" stroke="#222" stroke-width="0.8" />
<text x="396.20" y="347.60" font-size="6.8" text-anchor="middle" fill="#333" >pre-BI</text>
<text x="0.00" y="0.00" font-size="6.5" text-anchor="middle" fill="#2a2a2a" transform="translate(310.6,283.8) rotate(-90)">% of population</text>
<rect x="411" y="276.2" width="12" height="6.6" fill="#521a6c"/>
<rect x="411" y="288.5" width="12" height="6.1" fill="#e2137f"/>
<text x="427.00" y="281.80" font-size="6.4" text-anchor="start" fill="#333" >+ IL-7</text>
<text x="427.00" y="294.00" font-size="6.4" text-anchor="start" fill="#333" >– IL-7</text>
<text x="11.30" y="387.70" font-size="12.3" text-anchor="start" fill="#111" font-weight="bold" stroke="#111" stroke-width="0.35">H</text>
<text x="279.30" y="388.80" font-size="8.6" text-anchor="middle" fill="#1a1a1a" >Bone marrow - Day 14 - Ki-67 expression</text>
<polygon points="55.60,478.60 57.20,470.00 58.70,465.70 60.40,468.70 62.00,458.00 63.30,447.00 64.30,443.70 65.20,448.00 66.00,456.60 67.30,460.50 70.30,462.70 72.50,461.00 73.80,460.10 75.50,463.50 77.70,469.60 79.80,475.70 82.90,477.40 85.90,475.20 88.10,477.40 90.70,478.60" fill="#d3167a" stroke="#5a1040" stroke-width="0.6" stroke-linejoin="round" />
<polygon points="66.60,461.50 68.50,468.00 70.80,475.60 73.00,469.00 75.00,464.50 73.80,461.80 72.00,462.60 70.30,463.80 68.20,462.00" fill="#ea5fa4" stroke="none" stroke-width="0.6" stroke-linejoin="round" />
<polygon points="63.20,452.00 64.30,446.50 65.40,452.00 65.60,470.00 63.00,470.00" fill="#e04a95" stroke="none" stroke-width="0.6" stroke-linejoin="round" fill-opacity="0.7"/>
<polygon points="57.50,474.00 58.80,468.50 60.30,471.00 61.00,477.50 57.50,477.50" fill="#e85a9f" stroke="none" stroke-width="0.6" stroke-linejoin="round" fill-opacity="0.7"/>
<rect x="45.00" y="410.80" width="67.50" height="67.80" fill="none" stroke="#222" stroke-width="0.9"/>
<line x1="41.40" y1="478.60" x2="45.00" y2="478.60" stroke="#222" stroke-width="0.7" />
<text x="38.40" y="481.10" font-size="7.0" text-anchor="end" fill="#2a2a2a" textLength="3.23" lengthAdjust="spacingAndGlyphs">0</text>
<line x1="41.40" y1="465.62" x2="45.00" y2="465.62" stroke="#222" stroke-width="0.7" />
<text x="38.40" y="468.12" font-size="7.0" text-anchor="end" fill="#2a2a2a" textLength="6.46" lengthAdjust="spacingAndGlyphs">20</text>
<line x1="41.40" y1="452.64" x2="45.00" y2="452.64" stroke="#222" stroke-width="0.7" />
<text x="38.40" y="455.14" font-size="7.0" text-anchor="end" fill="#2a2a2a" textLength="6.46" lengthAdjust="spacingAndGlyphs">40</text>
<line x1="41.40" y1="439.66" x2="45.00" y2="439.66" stroke="#222" stroke-width="0.7" />
<text x="38.40" y="442.16" font-size="7.0" text-anchor="end" fill="#2a2a2a" textLength="6.46" lengthAdjust="spacingAndGlyphs">60</text>
<line x1="41.40" y1="426.68" x2="45.00" y2="426.68" stroke="#222" stroke-width="0.7" />
<text x="38.40" y="429.18" font-size="7.0" text-anchor="end" fill="#2a2a2a" textLength="6.46" lengthAdjust="spacingAndGlyphs">80</text>
<line x1="41.40" y1="413.70" x2="45.00" y2="413.70" stroke="#222" stroke-width="0.7" />
<text x="38.40" y="416.20" font-size="7.0" text-anchor="end" fill="#2a2a2a" textLength="9.69" lengthAdjust="spacingAndGlyphs">100</text>
<line x1="43.20" y1="478.60" x2="45.00" y2="478.60" stroke="#222" stroke-width="0.5" />
<line x1="43.20" y1="476.00" x2="45.00" y2="476.00" stroke="#222" stroke-width="0.5" />
<line x1="43.20" y1="473.41" x2="45.00" y2="473.41" stroke="#222" stroke-width="0.5" />
<line x1="43.20" y1="470.81" x2="45.00" y2="470.81" stroke="#222" stroke-width="0.5" />
<line x1="43.20" y1="468.22" x2="45.00" y2="468.22" stroke="#222" stroke-width="0.5" />
<line x1="43.20" y1="465.62" x2="45.00" y2="465.62" stroke="#222" stroke-width="0.5" />
<line x1="43.20" y1="463.02" x2="45.00" y2="463.02" stroke="#222" stroke-width="0.5" />
<line x1="43.20" y1="460.43" x2="45.00" y2="460.43" stroke="#222" stroke-width="0.5" />
<line x1="43.20" y1="457.83" x2="45.00" y2="457.83" stroke="#222" stroke-width="0.5" />
<line x1="43.20" y1="455.24" x2="45.00" y2="455.24" stroke="#222" stroke-width="0.5" />
<line x1="43.20" y1="452.64" x2="45.00" y2="452.64" stroke="#222" stroke-width="0.5" />
<line x1="43.20" y1="450.04" x2="45.00" y2="450.04" stroke="#222" stroke-width="0.5" />
<line x1="43.20" y1="447.45" x2="45.00" y2="447.45" stroke="#222" stroke-width="0.5" />
<line x1="43.20" y1="444.85" x2="45.00" y2="444.85" stroke="#222" stroke-width="0.5" />
<line x1="43.20" y1="442.26" x2="45.00" y2="442.26" stroke="#222" stroke-width="0.5" />
<line x1="43.20" y1="439.66" x2="45.00" y2="439.66" stroke="#222" stroke-width="0.5" />
<line x1="43.20" y1="437.06" x2="45.00" y2="437.06" stroke="#222" stroke-width="0.5" />
<line x1="43.20" y1="434.47" x2="45.00" y2="434.47" stroke="#222" stroke-width="0.5" />
<line x1="43.20" y1="431.87" x2="45.00" y2="431.87" stroke="#222" stroke-width="0.5" />
<line x1="43.20" y1="429.28" x2="45.00" y2="429.28" stroke="#222" stroke-width="0.5" />
<line x1="43.20" y1="426.68" x2="45.00" y2="426.68" stroke="#222" stroke-width="0.5" />
<line x1="43.20" y1="424.08" x2="45.00" y2="424.08" stroke="#222" stroke-width="0.5" />
<line x1="43.20" y1="421.49" x2="45.00" y2="421.49" stroke="#222" stroke-width="0.5" />
<line x1="43.20" y1="418.89" x2="45.00" y2="418.89" stroke="#222" stroke-width="0.5" />
<line x1="43.20" y1="416.30" x2="45.00" y2="416.30" stroke="#222" stroke-width="0.5" />
<line x1="58.75" y1="478.60" x2="58.75" y2="481.40" stroke="#222" stroke-width="0.8" />
<text font-size="6.7" fill="#2a2a2a" text-anchor="end" transform="translate(62.75,488.40) rotate(-45)">0</text>
<line x1="74.60" y1="478.60" x2="74.60" y2="481.40" stroke="#222" stroke-width="0.8" />
<text font-size="6.7" fill="#2a2a2a" text-anchor="end" transform="translate(78.60,488.40) rotate(-45)">10<tspan font-size="4.15" dy="-3.02">4</tspan></text>
<line x1="89.80" y1="478.60" x2="89.80" y2="481.40" stroke="#222" stroke-width="0.8" />
<text font-size="6.7" fill="#2a2a2a" text-anchor="end" transform="translate(93.80,488.40) rotate(-45)">10<tspan font-size="4.15" dy="-3.02">5</tspan></text>
<line x1="104.20" y1="478.60" x2="104.20" y2="481.40" stroke="#222" stroke-width="0.8" />
<text font-size="6.7" fill="#2a2a2a" text-anchor="end" transform="translate(108.20,488.40) rotate(-45)">10<tspan font-size="4.15" dy="-3.02">6</tspan></text>
<line x1="62.71" y1="478.60" x2="62.71" y2="480.00" stroke="#222" stroke-width="0.4" />
<line x1="66.67" y1="478.60" x2="66.67" y2="480.00" stroke="#222" stroke-width="0.4" />
<line x1="70.64" y1="478.60" x2="70.64" y2="480.00" stroke="#222" stroke-width="0.4" />
<line x1="78.40" y1="478.60" x2="78.40" y2="480.00" stroke="#222" stroke-width="0.4" />
<line x1="82.20" y1="478.60" x2="82.20" y2="480.00" stroke="#222" stroke-width="0.4" />
<line x1="86.00" y1="478.60" x2="86.00" y2="480.00" stroke="#222" stroke-width="0.4" />
<line x1="93.40" y1="478.60" x2="93.40" y2="480.00" stroke="#222" stroke-width="0.4" />
<line x1="97.00" y1="478.60" x2="97.00" y2="480.00" stroke="#222" stroke-width="0.4" />
<line x1="100.60" y1="478.60" x2="100.60" y2="480.00" stroke="#222" stroke-width="0.4" />
<line x1="72.00" y1="440.70" x2="97.40" y2="440.70" stroke="#333" stroke-width="0.85" />
<line x1="72.00" y1="439.30" x2="72.00" y2="442.10" stroke="#3a3a3a" stroke-width="0.7" />
<line x1="97.40" y1="439.30" x2="97.40" y2="442.10" stroke="#3a3a3a" stroke-width="0.7" />
<text x="78.75" y="407.90" font-size="6.5" text-anchor="middle" fill="#222" >CLP</text>
<polygon points="138.80,478.60 142.40,466.30 144.50,431.70 146.00,428.10 148.10,447.60 149.60,456.30 151.00,457.70 152.50,461.30 155.30,462.70 158.20,461.30 160.40,472.10 164.70,474.30 169.80,478.60" fill="#521e6e" stroke="#2a1030" stroke-width="0.6" stroke-linejoin="round" />
<polygon points="139.50,478.60 143.10,457.70 145.70,428.80 148.10,449.00 150.30,466.30 153.20,470.70 158.90,472.10 163.30,475.00 169.00,478.60" fill="#de0f80" stroke="#8a1050" stroke-width="0.4" stroke-linejoin="round" />
<rect x="125.00" y="410.80" width="67.50" height="67.80" fill="none" stroke="#222" stroke-width="0.9"/>
<line x1="121.40" y1="478.60" x2="125.00" y2="478.60" stroke="#222" stroke-width="0.7" />
<line x1="121.40" y1="465.62" x2="125.00" y2="465.62" stroke="#222" stroke-width="0.7" />
<line x1="121.40" y1="452.64" x2="125.00" y2="452.64" stroke="#222" stroke-width="0.7" />
<line x1="121.40" y1="439.66" x2="125.00" y2="439.66" stroke="#222" stroke-width="0.7" />
<line x1="121.40" y1="426.68" x2="125.00" y2="426.68" stroke="#222" stroke-width="0.7" />
<line x1="121.40" y1="413.70" x2="125.00" y2="413.70" stroke="#222" stroke-width="0.7" />
<line x1="123.20" y1="478.60" x2="125.00" y2="478.60" stroke="#222" stroke-width="0.5" />
<line x1="123.20" y1="476.00" x2="125.00" y2="476.00" stroke="#222" stroke-width="0.5" />
<line x1="123.20" y1="473.41" x2="125.00" y2="473.41" stroke="#222" stroke-width="0.5" />
<line x1="123.20" y1="470.81" x2="125.00" y2="470.81" stroke="#222" stroke-width="0.5" />
<line x1="123.20" y1="468.22" x2="125.00" y2="468.22" stroke="#222" stroke-width="0.5" />
<line x1="123.20" y1="465.62" x2="125.00" y2="465.62" stroke="#222" stroke-width="0.5" />
<line x1="123.20" y1="463.02" x2="125.00" y2="463.02" stroke="#222" stroke-width="0.5" />
<line x1="123.20" y1="460.43" x2="125.00" y2="460.43" stroke="#222" stroke-width="0.5" />
<line x1="123.20" y1="457.83" x2="125.00" y2="457.83" stroke="#222" stroke-width="0.5" />
<line x1="123.20" y1="455.24" x2="125.00" y2="455.24" stroke="#222" stroke-width="0.5" />
<line x1="123.20" y1="452.64" x2="125.00" y2="452.64" stroke="#222" stroke-width="0.5" />
<line x1="123.20" y1="450.04" x2="125.00" y2="450.04" stroke="#222" stroke-width="0.5" />
<line x1="123.20" y1="447.45" x2="125.00" y2="447.45" stroke="#222" stroke-width="0.5" />
<line x1="123.20" y1="444.85" x2="125.00" y2="444.85" stroke="#222" stroke-width="0.5" />
<line x1="123.20" y1="442.26" x2="125.00" y2="442.26" stroke="#222" stroke-width="0.5" />
<line x1="123.20" y1="439.66" x2="125.00" y2="439.66" stroke="#222" stroke-width="0.5" />
<line x1="123.20" y1="437.06" x2="125.00" y2="437.06" stroke="#222" stroke-width="0.5" />
<line x1="123.20" y1="434.47" x2="125.00" y2="434.47" stroke="#222" stroke-width="0.5" />
<line x1="123.20" y1="431.87" x2="125.00" y2="431.87" stroke="#222" stroke-width="0.5" />
<line x1="123.20" y1="429.28" x2="125.00" y2="429.28" stroke="#222" stroke-width="0.5" />
<line x1="123.20" y1="426.68" x2="125.00" y2="426.68" stroke="#222" stroke-width="0.5" />
<line x1="123.20" y1="424.08" x2="125.00" y2="424.08" stroke="#222" stroke-width="0.5" />
<line x1="123.20" y1="421.49" x2="125.00" y2="421.49" stroke="#222" stroke-width="0.5" />
<line x1="123.20" y1="418.89" x2="125.00" y2="418.89" stroke="#222" stroke-width="0.5" />
<line x1="123.20" y1="416.30" x2="125.00" y2="416.30" stroke="#222" stroke-width="0.5" />
<line x1="138.75" y1="478.60" x2="138.75" y2="481.40" stroke="#222" stroke-width="0.8" />
<text font-size="6.7" fill="#2a2a2a" text-anchor="end" transform="translate(142.75,488.40) rotate(-45)">0</text>
<line x1="154.60" y1="478.60" x2="154.60" y2="481.40" stroke="#222" stroke-width="0.8" />
<text font-size="6.7" fill="#2a2a2a" text-anchor="end" transform="translate(158.60,488.40) rotate(-45)">10<tspan font-size="4.15" dy="-3.02">4</tspan></text>
<line x1="169.80" y1="478.60" x2="169.80" y2="481.40" stroke="#222" stroke-width="0.8" />
<text font-size="6.7" fill="#2a2a2a" text-anchor="end" transform="translate(173.80,488.40) rotate(-45)">10<tspan font-size="4.15" dy="-3.02">5</tspan></text>
<line x1="184.20" y1="478.60" x2="184.20" y2="481.40" stroke="#222" stroke-width="0.8" />
<text font-size="6.7" fill="#2a2a2a" text-anchor="end" transform="translate(188.20,488.40) rotate(-45)">10<tspan font-size="4.15" dy="-3.02">6</tspan></text>
<line x1="142.71" y1="478.60" x2="142.71" y2="480.00" stroke="#222" stroke-width="0.4" />
<line x1="146.68" y1="478.60" x2="146.68" y2="480.00" stroke="#222" stroke-width="0.4" />
<line x1="150.64" y1="478.60" x2="150.64" y2="480.00" stroke="#222" stroke-width="0.4" />
<line x1="158.40" y1="478.60" x2="158.40" y2="480.00" stroke="#222" stroke-width="0.4" />
<line x1="162.20" y1="478.60" x2="162.20" y2="480.00" stroke="#222" stroke-width="0.4" />
<line x1="166.00" y1="478.60" x2="166.00" y2="480.00" stroke="#222" stroke-width="0.4" />
<line x1="173.40" y1="478.60" x2="173.40" y2="480.00" stroke="#222" stroke-width="0.4" />
<line x1="177.00" y1="478.60" x2="177.00" y2="480.00" stroke="#222" stroke-width="0.4" />
<line x1="180.60" y1="478.60" x2="180.60" y2="480.00" stroke="#222" stroke-width="0.4" />
<line x1="152.00" y1="440.70" x2="177.40" y2="440.70" stroke="#333" stroke-width="0.85" />
<line x1="152.00" y1="439.30" x2="152.00" y2="442.10" stroke="#3a3a3a" stroke-width="0.7" />
<line x1="177.40" y1="439.30" x2="177.40" y2="442.10" stroke="#3a3a3a" stroke-width="0.7" />
<text x="158.75" y="407.90" font-size="6.5" text-anchor="middle" fill="#222" >Pro-B</text>
<polygon points="218.80,478.60 221.60,460.60 223.80,434.60 226.00,457.70 228.10,463.50 231.00,466.30 233.20,469.20 236.80,467.10 240.40,469.20 244.70,475.00 249.80,478.60" fill="#521e6e" stroke="#2a1030" stroke-width="0.6" stroke-linejoin="round" />
<polygon points="218.80,478.60 222.40,457.70 223.80,435.30 226.00,459.10 228.80,472.10 234.60,475.00 243.30,477.20 249.00,478.60" fill="#de0f80" stroke="#8a1050" stroke-width="0.4" stroke-linejoin="round" />
<rect x="205.00" y="410.80" width="67.50" height="67.80" fill="none" stroke="#222" stroke-width="0.9"/>
<line x1="201.40" y1="478.60" x2="205.00" y2="478.60" stroke="#222" stroke-width="0.7" />
<line x1="201.40" y1="465.62" x2="205.00" y2="465.62" stroke="#222" stroke-width="0.7" />
<line x1="201.40" y1="452.64" x2="205.00" y2="452.64" stroke="#222" stroke-width="0.7" />
<line x1="201.40" y1="439.66" x2="205.00" y2="439.66" stroke="#222" stroke-width="0.7" />
<line x1="201.40" y1="426.68" x2="205.00" y2="426.68" stroke="#222" stroke-width="0.7" />
<line x1="201.40" y1="413.70" x2="205.00" y2="413.70" stroke="#222" stroke-width="0.7" />
<line x1="203.20" y1="478.60" x2="205.00" y2="478.60" stroke="#222" stroke-width="0.5" />
<line x1="203.20" y1="476.00" x2="205.00" y2="476.00" stroke="#222" stroke-width="0.5" />
<line x1="203.20" y1="473.41" x2="205.00" y2="473.41" stroke="#222" stroke-width="0.5" />
<line x1="203.20" y1="470.81" x2="205.00" y2="470.81" stroke="#222" stroke-width="0.5" />
<line x1="203.20" y1="468.22" x2="205.00" y2="468.22" stroke="#222" stroke-width="0.5" />
<line x1="203.20" y1="465.62" x2="205.00" y2="465.62" stroke="#222" stroke-width="0.5" />
<line x1="203.20" y1="463.02" x2="205.00" y2="463.02" stroke="#222" stroke-width="0.5" />
<line x1="203.20" y1="460.43" x2="205.00" y2="460.43" stroke="#222" stroke-width="0.5" />
<line x1="203.20" y1="457.83" x2="205.00" y2="457.83" stroke="#222" stroke-width="0.5" />
<line x1="203.20" y1="455.24" x2="205.00" y2="455.24" stroke="#222" stroke-width="0.5" />
<line x1="203.20" y1="452.64" x2="205.00" y2="452.64" stroke="#222" stroke-width="0.5" />
<line x1="203.20" y1="450.04" x2="205.00" y2="450.04" stroke="#222" stroke-width="0.5" />
<line x1="203.20" y1="447.45" x2="205.00" y2="447.45" stroke="#222" stroke-width="0.5" />
<line x1="203.20" y1="444.85" x2="205.00" y2="444.85" stroke="#222" stroke-width="0.5" />
<line x1="203.20" y1="442.26" x2="205.00" y2="442.26" stroke="#222" stroke-width="0.5" />
<line x1="203.20" y1="439.66" x2="205.00" y2="439.66" stroke="#222" stroke-width="0.5" />
<line x1="203.20" y1="437.06" x2="205.00" y2="437.06" stroke="#222" stroke-width="0.5" />
<line x1="203.20" y1="434.47" x2="205.00" y2="434.47" stroke="#222" stroke-width="0.5" />
<line x1="203.20" y1="431.87" x2="205.00" y2="431.87" stroke="#222" stroke-width="0.5" />
<line x1="203.20" y1="429.28" x2="205.00" y2="429.28" stroke="#222" stroke-width="0.5" />
<line x1="203.20" y1="426.68" x2="205.00" y2="426.68" stroke="#222" stroke-width="0.5" />
<line x1="203.20" y1="424.08" x2="205.00" y2="424.08" stroke="#222" stroke-width="0.5" />
<line x1="203.20" y1="421.49" x2="205.00" y2="421.49" stroke="#222" stroke-width="0.5" />
<line x1="203.20" y1="418.89" x2="205.00" y2="418.89" stroke="#222" stroke-width="0.5" />
<line x1="203.20" y1="416.30" x2="205.00" y2="416.30" stroke="#222" stroke-width="0.5" />
<line x1="218.75" y1="478.60" x2="218.75" y2="481.40" stroke="#222" stroke-width="0.8" />
<text font-size="6.7" fill="#2a2a2a" text-anchor="end" transform="translate(222.75,488.40) rotate(-45)">0</text>
<line x1="234.60" y1="478.60" x2="234.60" y2="481.40" stroke="#222" stroke-width="0.8" />
<text font-size="6.7" fill="#2a2a2a" text-anchor="end" transform="translate(238.60,488.40) rotate(-45)">10<tspan font-size="4.15" dy="-3.02">4</tspan></text>
<line x1="249.80" y1="478.60" x2="249.80" y2="481.40" stroke="#222" stroke-width="0.8" />
<text font-size="6.7" fill="#2a2a2a" text-anchor="end" transform="translate(253.80,488.40) rotate(-45)">10<tspan font-size="4.15" dy="-3.02">5</tspan></text>
<line x1="264.20" y1="478.60" x2="264.20" y2="481.40" stroke="#222" stroke-width="0.8" />
<text font-size="6.7" fill="#2a2a2a" text-anchor="end" transform="translate(268.20,488.40) rotate(-45)">10<tspan font-size="4.15" dy="-3.02">6</tspan></text>
<line x1="222.71" y1="478.60" x2="222.71" y2="480.00" stroke="#222" stroke-width="0.4" />
<line x1="226.68" y1="478.60" x2="226.68" y2="480.00" stroke="#222" stroke-width="0.4" />
<line x1="230.64" y1="478.60" x2="230.64" y2="480.00" stroke="#222" stroke-width="0.4" />
<line x1="238.40" y1="478.60" x2="238.40" y2="480.00" stroke="#222" stroke-width="0.4" />
<line x1="242.20" y1="478.60" x2="242.20" y2="480.00" stroke="#222" stroke-width="0.4" />
<line x1="246.00" y1="478.60" x2="246.00" y2="480.00" stroke="#222" stroke-width="0.4" />
<line x1="253.40" y1="478.60" x2="253.40" y2="480.00" stroke="#222" stroke-width="0.4" />
<line x1="257.00" y1="478.60" x2="257.00" y2="480.00" stroke="#222" stroke-width="0.4" />
<line x1="260.60" y1="478.60" x2="260.60" y2="480.00" stroke="#222" stroke-width="0.4" />
<line x1="232.00" y1="440.70" x2="257.40" y2="440.70" stroke="#333" stroke-width="0.85" />
<line x1="232.00" y1="439.30" x2="232.00" y2="442.10" stroke="#3a3a3a" stroke-width="0.7" />
<line x1="257.40" y1="439.30" x2="257.40" y2="442.10" stroke="#3a3a3a" stroke-width="0.7" />
<text x="238.75" y="407.90" font-size="6.5" text-anchor="middle" fill="#222" >Pre-BI</text>
<polygon points="310.00,478.60 311.50,460.00 313.75,435.00 315.00,430.00 316.20,427.50 317.50,426.20 318.75,428.75 320.00,425.00 321.25,425.00 322.50,432.50 323.75,426.50 325.00,445.00 326.25,450.00 328.00,453.75 329.20,465.00 330.00,475.00 331.25,478.60" fill="#521e6e" stroke="#2a1030" stroke-width="0.6" stroke-linejoin="round" />
<polygon points="310.50,478.60 312.00,458.00 313.50,440.00 315.00,432.00 316.50,429.50 317.50,428.50 319.00,432.00 320.50,428.50 321.50,436.00 323.00,450.00 325.00,462.00 327.00,470.00 329.00,476.00 330.00,478.60" fill="#de0f80" stroke="#8a1050" stroke-width="0.4" stroke-linejoin="round" />
<rect x="285.00" y="410.80" width="67.50" height="67.80" fill="none" stroke="#222" stroke-width="0.9"/>
<line x1="281.40" y1="478.60" x2="285.00" y2="478.60" stroke="#222" stroke-width="0.7" />
<line x1="281.40" y1="465.62" x2="285.00" y2="465.62" stroke="#222" stroke-width="0.7" />
<line x1="281.40" y1="452.64" x2="285.00" y2="452.64" stroke="#222" stroke-width="0.7" />
<line x1="281.40" y1="439.66" x2="285.00" y2="439.66" stroke="#222" stroke-width="0.7" />
<line x1="281.40" y1="426.68" x2="285.00" y2="426.68" stroke="#222" stroke-width="0.7" />
<line x1="281.40" y1="413.70" x2="285.00" y2="413.70" stroke="#222" stroke-width="0.7" />
<line x1="283.20" y1="478.60" x2="285.00" y2="478.60" stroke="#222" stroke-width="0.5" />
<line x1="283.20" y1="476.00" x2="285.00" y2="476.00" stroke="#222" stroke-width="0.5" />
<line x1="283.20" y1="473.41" x2="285.00" y2="473.41" stroke="#222" stroke-width="0.5" />
<line x1="283.20" y1="470.81" x2="285.00" y2="470.81" stroke="#222" stroke-width="0.5" />
<line x1="283.20" y1="468.22" x2="285.00" y2="468.22" stroke="#222" stroke-width="0.5" />
<line x1="283.20" y1="465.62" x2="285.00" y2="465.62" stroke="#222" stroke-width="0.5" />
<line x1="283.20" y1="463.02" x2="285.00" y2="463.02" stroke="#222" stroke-width="0.5" />
<line x1="283.20" y1="460.43" x2="285.00" y2="460.43" stroke="#222" stroke-width="0.5" />
<line x1="283.20" y1="457.83" x2="285.00" y2="457.83" stroke="#222" stroke-width="0.5" />
<line x1="283.20" y1="455.24" x2="285.00" y2="455.24" stroke="#222" stroke-width="0.5" />
<line x1="283.20" y1="452.64" x2="285.00" y2="452.64" stroke="#222" stroke-width="0.5" />
<line x1="283.20" y1="450.04" x2="285.00" y2="450.04" stroke="#222" stroke-width="0.5" />
<line x1="283.20" y1="447.45" x2="285.00" y2="447.45" stroke="#222" stroke-width="0.5" />
<line x1="283.20" y1="444.85" x2="285.00" y2="444.85" stroke="#222" stroke-width="0.5" />
<line x1="283.20" y1="442.26" x2="285.00" y2="442.26" stroke="#222" stroke-width="0.5" />
<line x1="283.20" y1="439.66" x2="285.00" y2="439.66" stroke="#222" stroke-width="0.5" />
<line x1="283.20" y1="437.06" x2="285.00" y2="437.06" stroke="#222" stroke-width="0.5" />
<line x1="283.20" y1="434.47" x2="285.00" y2="434.47" stroke="#222" stroke-width="0.5" />
<line x1="283.20" y1="431.87" x2="285.00" y2="431.87" stroke="#222" stroke-width="0.5" />
<line x1="283.20" y1="429.28" x2="285.00" y2="429.28" stroke="#222" stroke-width="0.5" />
<line x1="283.20" y1="426.68" x2="285.00" y2="426.68" stroke="#222" stroke-width="0.5" />
<line x1="283.20" y1="424.08" x2="285.00" y2="424.08" stroke="#222" stroke-width="0.5" />
<line x1="283.20" y1="421.49" x2="285.00" y2="421.49" stroke="#222" stroke-width="0.5" />
<line x1="283.20" y1="418.89" x2="285.00" y2="418.89" stroke="#222" stroke-width="0.5" />
<line x1="283.20" y1="416.30" x2="285.00" y2="416.30" stroke="#222" stroke-width="0.5" />
<line x1="298.75" y1="478.60" x2="298.75" y2="481.40" stroke="#222" stroke-width="0.8" />
<text font-size="6.7" fill="#2a2a2a" text-anchor="end" transform="translate(302.75,488.40) rotate(-45)">0</text>
<line x1="314.60" y1="478.60" x2="314.60" y2="481.40" stroke="#222" stroke-width="0.8" />
<text font-size="6.7" fill="#2a2a2a" text-anchor="end" transform="translate(318.60,488.40) rotate(-45)">10<tspan font-size="4.15" dy="-3.02">4</tspan></text>
<line x1="329.80" y1="478.60" x2="329.80" y2="481.40" stroke="#222" stroke-width="0.8" />
<text font-size="6.7" fill="#2a2a2a" text-anchor="end" transform="translate(333.80,488.40) rotate(-45)">10<tspan font-size="4.15" dy="-3.02">5</tspan></text>
<line x1="344.20" y1="478.60" x2="344.20" y2="481.40" stroke="#222" stroke-width="0.8" />
<text font-size="6.7" fill="#2a2a2a" text-anchor="end" transform="translate(348.20,488.40) rotate(-45)">10<tspan font-size="4.15" dy="-3.02">6</tspan></text>
<line x1="302.71" y1="478.60" x2="302.71" y2="480.00" stroke="#222" stroke-width="0.4" />
<line x1="306.68" y1="478.60" x2="306.68" y2="480.00" stroke="#222" stroke-width="0.4" />
<line x1="310.64" y1="478.60" x2="310.64" y2="480.00" stroke="#222" stroke-width="0.4" />
<line x1="318.40" y1="478.60" x2="318.40" y2="480.00" stroke="#222" stroke-width="0.4" />
<line x1="322.20" y1="478.60" x2="322.20" y2="480.00" stroke="#222" stroke-width="0.4" />
<line x1="326.00" y1="478.60" x2="326.00" y2="480.00" stroke="#222" stroke-width="0.4" />
<line x1="333.40" y1="478.60" x2="333.40" y2="480.00" stroke="#222" stroke-width="0.4" />
<line x1="337.00" y1="478.60" x2="337.00" y2="480.00" stroke="#222" stroke-width="0.4" />
<line x1="340.60" y1="478.60" x2="340.60" y2="480.00" stroke="#222" stroke-width="0.4" />
<line x1="312.00" y1="440.70" x2="337.40" y2="440.70" stroke="#333" stroke-width="0.85" />
<line x1="312.00" y1="439.30" x2="312.00" y2="442.10" stroke="#3a3a3a" stroke-width="0.7" />
<line x1="337.40" y1="439.30" x2="337.40" y2="442.10" stroke="#3a3a3a" stroke-width="0.7" />
<text x="318.75" y="407.90" font-size="6.5" text-anchor="middle" fill="#222" >Pre-BII large</text>
<polygon points="378.80,478.60 380.90,454.80 383.10,423.10 384.20,417.30 386.00,428.80 388.10,447.60 390.30,462.00 393.20,473.60 395.30,478.60" fill="#521e6e" stroke="#2a1030" stroke-width="0.6" stroke-linejoin="round" />
<polygon points="379.50,478.60 381.60,443.30 383.40,419.50 385.20,437.50 386.70,454.80 388.80,463.50 393.20,475.00 394.60,478.60" fill="#de0f80" stroke="#8a1050" stroke-width="0.4" stroke-linejoin="round" />
<rect x="365.00" y="410.80" width="67.50" height="67.80" fill="none" stroke="#222" stroke-width="0.9"/>
<line x1="361.40" y1="478.60" x2="365.00" y2="478.60" stroke="#222" stroke-width="0.7" />
<line x1="361.40" y1="465.62" x2="365.00" y2="465.62" stroke="#222" stroke-width="0.7" />
<line x1="361.40" y1="452.64" x2="365.00" y2="452.64" stroke="#222" stroke-width="0.7" />
<line x1="361.40" y1="439.66" x2="365.00" y2="439.66" stroke="#222" stroke-width="0.7" />
<line x1="361.40" y1="426.68" x2="365.00" y2="426.68" stroke="#222" stroke-width="0.7" />
<line x1="361.40" y1="413.70" x2="365.00" y2="413.70" stroke="#222" stroke-width="0.7" />
<line x1="363.20" y1="478.60" x2="365.00" y2="478.60" stroke="#222" stroke-width="0.5" />
<line x1="363.20" y1="476.00" x2="365.00" y2="476.00" stroke="#222" stroke-width="0.5" />
<line x1="363.20" y1="473.41" x2="365.00" y2="473.41" stroke="#222" stroke-width="0.5" />
<line x1="363.20" y1="470.81" x2="365.00" y2="470.81" stroke="#222" stroke-width="0.5" />
<line x1="363.20" y1="468.22" x2="365.00" y2="468.22" stroke="#222" stroke-width="0.5" />
<line x1="363.20" y1="465.62" x2="365.00" y2="465.62" stroke="#222" stroke-width="0.5" />
<line x1="363.20" y1="463.02" x2="365.00" y2="463.02" stroke="#222" stroke-width="0.5" />
<line x1="363.20" y1="460.43" x2="365.00" y2="460.43" stroke="#222" stroke-width="0.5" />
<line x1="363.20" y1="457.83" x2="365.00" y2="457.83" stroke="#222" stroke-width="0.5" />
<line x1="363.20" y1="455.24" x2="365.00" y2="455.24" stroke="#222" stroke-width="0.5" />
<line x1="363.20" y1="452.64" x2="365.00" y2="452.64" stroke="#222" stroke-width="0.5" />
<line x1="363.20" y1="450.04" x2="365.00" y2="450.04" stroke="#222" stroke-width="0.5" />
<line x1="363.20" y1="447.45" x2="365.00" y2="447.45" stroke="#222" stroke-width="0.5" />
<line x1="363.20" y1="444.85" x2="365.00" y2="444.85" stroke="#222" stroke-width="0.5" />
<line x1="363.20" y1="442.26" x2="365.00" y2="442.26" stroke="#222" stroke-width="0.5" />
<line x1="363.20" y1="439.66" x2="365.00" y2="439.66" stroke="#222" stroke-width="0.5" />
<line x1="363.20" y1="437.06" x2="365.00" y2="437.06" stroke="#222" stroke-width="0.5" />
<line x1="363.20" y1="434.47" x2="365.00" y2="434.47" stroke="#222" stroke-width="0.5" />
<line x1="363.20" y1="431.87" x2="365.00" y2="431.87" stroke="#222" stroke-width="0.5" />
<line x1="363.20" y1="429.28" x2="365.00" y2="429.28" stroke="#222" stroke-width="0.5" />
<line x1="363.20" y1="426.68" x2="365.00" y2="426.68" stroke="#222" stroke-width="0.5" />
<line x1="363.20" y1="424.08" x2="365.00" y2="424.08" stroke="#222" stroke-width="0.5" />
<line x1="363.20" y1="421.49" x2="365.00" y2="421.49" stroke="#222" stroke-width="0.5" />
<line x1="363.20" y1="418.89" x2="365.00" y2="418.89" stroke="#222" stroke-width="0.5" />
<line x1="363.20" y1="416.30" x2="365.00" y2="416.30" stroke="#222" stroke-width="0.5" />
<line x1="378.75" y1="478.60" x2="378.75" y2="481.40" stroke="#222" stroke-width="0.8" />
<text font-size="6.7" fill="#2a2a2a" text-anchor="end" transform="translate(382.75,488.40) rotate(-45)">0</text>
<line x1="394.60" y1="478.60" x2="394.60" y2="481.40" stroke="#222" stroke-width="0.8" />
<text font-size="6.7" fill="#2a2a2a" text-anchor="end" transform="translate(398.60,488.40) rotate(-45)">10<tspan font-size="4.15" dy="-3.02">4</tspan></text>
<line x1="409.80" y1="478.60" x2="409.80" y2="481.40" stroke="#222" stroke-width="0.8" />
<text font-size="6.7" fill="#2a2a2a" text-anchor="end" transform="translate(413.80,488.40) rotate(-45)">10<tspan font-size="4.15" dy="-3.02">5</tspan></text>
<line x1="424.20" y1="478.60" x2="424.20" y2="481.40" stroke="#222" stroke-width="0.8" />
<text font-size="6.7" fill="#2a2a2a" text-anchor="end" transform="translate(428.20,488.40) rotate(-45)">10<tspan font-size="4.15" dy="-3.02">6</tspan></text>
<line x1="382.71" y1="478.60" x2="382.71" y2="480.00" stroke="#222" stroke-width="0.4" />
<line x1="386.68" y1="478.60" x2="386.68" y2="480.00" stroke="#222" stroke-width="0.4" />
<line x1="390.64" y1="478.60" x2="390.64" y2="480.00" stroke="#222" stroke-width="0.4" />
<line x1="398.40" y1="478.60" x2="398.40" y2="480.00" stroke="#222" stroke-width="0.4" />
<line x1="402.20" y1="478.60" x2="402.20" y2="480.00" stroke="#222" stroke-width="0.4" />
<line x1="406.00" y1="478.60" x2="406.00" y2="480.00" stroke="#222" stroke-width="0.4" />
<line x1="413.40" y1="478.60" x2="413.40" y2="480.00" stroke="#222" stroke-width="0.4" />
<line x1="417.00" y1="478.60" x2="417.00" y2="480.00" stroke="#222" stroke-width="0.4" />
<line x1="420.60" y1="478.60" x2="420.60" y2="480.00" stroke="#222" stroke-width="0.4" />
<line x1="392.00" y1="440.70" x2="417.40" y2="440.70" stroke="#333" stroke-width="0.85" />
<line x1="392.00" y1="439.30" x2="392.00" y2="442.10" stroke="#3a3a3a" stroke-width="0.7" />
<line x1="417.40" y1="439.30" x2="417.40" y2="442.10" stroke="#3a3a3a" stroke-width="0.7" />
<text x="398.75" y="407.90" font-size="6.5" text-anchor="middle" fill="#222" >Pre-BII small</text>
<polygon points="459.80,478.60 461.30,474.50 462.40,460.00 463.30,440.00 464.20,426.30 465.10,440.00 466.00,460.00 467.20,472.00 469.00,476.50 472.00,477.70 475.00,477.40 478.00,476.60 481.00,476.00 484.00,476.50 487.00,477.50 491.00,478.60" fill="#521e6e" stroke="#2a1030" stroke-width="0.6" stroke-linejoin="round" />
<polygon points="460.00,478.60 461.40,474.80 462.50,460.50 463.30,441.00 464.20,427.30 465.00,441.00 465.90,460.50 467.10,472.50 469.00,476.80 472.00,478.00 480.00,478.60" fill="#de0f80" stroke="#8a1050" stroke-width="0.4" stroke-linejoin="round" />
<rect x="445.00" y="410.80" width="67.50" height="67.80" fill="none" stroke="#222" stroke-width="0.9"/>
<line x1="441.40" y1="478.60" x2="445.00" y2="478.60" stroke="#222" stroke-width="0.7" />
<line x1="441.40" y1="465.62" x2="445.00" y2="465.62" stroke="#222" stroke-width="0.7" />
<line x1="441.40" y1="452.64" x2="445.00" y2="452.64" stroke="#222" stroke-width="0.7" />
<line x1="441.40" y1="439.66" x2="445.00" y2="439.66" stroke="#222" stroke-width="0.7" />
<line x1="441.40" y1="426.68" x2="445.00" y2="426.68" stroke="#222" stroke-width="0.7" />
<line x1="441.40" y1="413.70" x2="445.00" y2="413.70" stroke="#222" stroke-width="0.7" />
<line x1="443.20" y1="478.60" x2="445.00" y2="478.60" stroke="#222" stroke-width="0.5" />
<line x1="443.20" y1="476.00" x2="445.00" y2="476.00" stroke="#222" stroke-width="0.5" />
<line x1="443.20" y1="473.41" x2="445.00" y2="473.41" stroke="#222" stroke-width="0.5" />
<line x1="443.20" y1="470.81" x2="445.00" y2="470.81" stroke="#222" stroke-width="0.5" />
<line x1="443.20" y1="468.22" x2="445.00" y2="468.22" stroke="#222" stroke-width="0.5" />
<line x1="443.20" y1="465.62" x2="445.00" y2="465.62" stroke="#222" stroke-width="0.5" />
<line x1="443.20" y1="463.02" x2="445.00" y2="463.02" stroke="#222" stroke-width="0.5" />
<line x1="443.20" y1="460.43" x2="445.00" y2="460.43" stroke="#222" stroke-width="0.5" />
<line x1="443.20" y1="457.83" x2="445.00" y2="457.83" stroke="#222" stroke-width="0.5" />
<line x1="443.20" y1="455.24" x2="445.00" y2="455.24" stroke="#222" stroke-width="0.5" />
<line x1="443.20" y1="452.64" x2="445.00" y2="452.64" stroke="#222" stroke-width="0.5" />
<line x1="443.20" y1="450.04" x2="445.00" y2="450.04" stroke="#222" stroke-width="0.5" />
<line x1="443.20" y1="447.45" x2="445.00" y2="447.45" stroke="#222" stroke-width="0.5" />
<line x1="443.20" y1="444.85" x2="445.00" y2="444.85" stroke="#222" stroke-width="0.5" />
<line x1="443.20" y1="442.26" x2="445.00" y2="442.26" stroke="#222" stroke-width="0.5" />
<line x1="443.20" y1="439.66" x2="445.00" y2="439.66" stroke="#222" stroke-width="0.5" />
<line x1="443.20" y1="437.06" x2="445.00" y2="437.06" stroke="#222" stroke-width="0.5" />
<line x1="443.20" y1="434.47" x2="445.00" y2="434.47" stroke="#222" stroke-width="0.5" />
<line x1="443.20" y1="431.87" x2="445.00" y2="431.87" stroke="#222" stroke-width="0.5" />
<line x1="443.20" y1="429.28" x2="445.00" y2="429.28" stroke="#222" stroke-width="0.5" />
<line x1="443.20" y1="426.68" x2="445.00" y2="426.68" stroke="#222" stroke-width="0.5" />
<line x1="443.20" y1="424.08" x2="445.00" y2="424.08" stroke="#222" stroke-width="0.5" />
<line x1="443.20" y1="421.49" x2="445.00" y2="421.49" stroke="#222" stroke-width="0.5" />
<line x1="443.20" y1="418.89" x2="445.00" y2="418.89" stroke="#222" stroke-width="0.5" />
<line x1="443.20" y1="416.30" x2="445.00" y2="416.30" stroke="#222" stroke-width="0.5" />
<line x1="458.75" y1="478.60" x2="458.75" y2="481.40" stroke="#222" stroke-width="0.8" />
<text font-size="6.7" fill="#2a2a2a" text-anchor="end" transform="translate(462.75,488.40) rotate(-45)">0</text>
<line x1="474.60" y1="478.60" x2="474.60" y2="481.40" stroke="#222" stroke-width="0.8" />
<text font-size="6.7" fill="#2a2a2a" text-anchor="end" transform="translate(478.60,488.40) rotate(-45)">10<tspan font-size="4.15" dy="-3.02">4</tspan></text>
<line x1="489.80" y1="478.60" x2="489.80" y2="481.40" stroke="#222" stroke-width="0.8" />
<text font-size="6.7" fill="#2a2a2a" text-anchor="end" transform="translate(493.80,488.40) rotate(-45)">10<tspan font-size="4.15" dy="-3.02">5</tspan></text>
<line x1="504.20" y1="478.60" x2="504.20" y2="481.40" stroke="#222" stroke-width="0.8" />
<text font-size="6.7" fill="#2a2a2a" text-anchor="end" transform="translate(508.20,488.40) rotate(-45)">10<tspan font-size="4.15" dy="-3.02">6</tspan></text>
<line x1="462.71" y1="478.60" x2="462.71" y2="480.00" stroke="#222" stroke-width="0.4" />
<line x1="466.68" y1="478.60" x2="466.68" y2="480.00" stroke="#222" stroke-width="0.4" />
<line x1="470.64" y1="478.60" x2="470.64" y2="480.00" stroke="#222" stroke-width="0.4" />
<line x1="478.40" y1="478.60" x2="478.40" y2="480.00" stroke="#222" stroke-width="0.4" />
<line x1="482.20" y1="478.60" x2="482.20" y2="480.00" stroke="#222" stroke-width="0.4" />
<line x1="486.00" y1="478.60" x2="486.00" y2="480.00" stroke="#222" stroke-width="0.4" />
<line x1="493.40" y1="478.60" x2="493.40" y2="480.00" stroke="#222" stroke-width="0.4" />
<line x1="497.00" y1="478.60" x2="497.00" y2="480.00" stroke="#222" stroke-width="0.4" />
<line x1="500.60" y1="478.60" x2="500.60" y2="480.00" stroke="#222" stroke-width="0.4" />
<line x1="472.00" y1="440.70" x2="497.40" y2="440.70" stroke="#333" stroke-width="0.85" />
<line x1="472.00" y1="439.30" x2="472.00" y2="442.10" stroke="#3a3a3a" stroke-width="0.7" />
<line x1="497.40" y1="439.30" x2="497.40" y2="442.10" stroke="#3a3a3a" stroke-width="0.7" />
<text x="478.75" y="407.90" font-size="6.5" text-anchor="middle" fill="#222" >Immature</text>
<line x1="21.40" y1="482.00" x2="21.40" y2="415.00" stroke="#444" stroke-width="0.7" />
<polygon points="21.40,411.50 19.60,415.80 23.20,415.80" fill="#222" stroke="none" stroke-width="0.6" stroke-linejoin="round" />
<line x1="45.00" y1="500.20" x2="509.00" y2="500.20" stroke="#444" stroke-width="0.7" />
<polygon points="512.60,500.20 508.40,498.50 508.40,501.90" fill="#222" stroke="none" stroke-width="0.6" stroke-linejoin="round" />
<text x="0.00" y="0.00" font-size="8.4" text-anchor="middle" fill="#2a2a2a" textLength="64.8" lengthAdjust="spacingAndGlyphs" transform="translate(14.8,444.4) rotate(-90)">Normalized to mode</text>
<text x="278.85" y="511.50" font-size="9.0" text-anchor="middle" fill="#2a2a2a" textLength="16.1" lengthAdjust="spacingAndGlyphs">Ki-67</text>
<rect x="202.90" y="597.86" width="6.30" height="37.74" fill="#521a6c"/>
<line x1="206.05" y1="597.86" x2="206.05" y2="591.36" stroke="#333" stroke-width="0.6" />
<line x1="204.45" y1="591.36" x2="207.65" y2="591.36" stroke="#333" stroke-width="0.6" />
<rect x="212.40" y="606.73" width="6.80" height="28.87" fill="#e2137f"/>
<line x1="215.80" y1="606.73" x2="215.80" y2="603.73" stroke="#333" stroke-width="0.6" />
<line x1="214.20" y1="603.73" x2="217.40" y2="603.73" stroke="#333" stroke-width="0.6" />
<rect x="229.00" y="592.25" width="6.40" height="43.35" fill="#521a6c"/>
<line x1="232.20" y1="592.25" x2="232.20" y2="589.75" stroke="#333" stroke-width="0.6" />
<line x1="230.60" y1="589.75" x2="233.80" y2="589.75" stroke="#333" stroke-width="0.6" />
<rect x="238.60" y="606.02" width="6.50" height="29.58" fill="#e2137f"/>
<line x1="241.85" y1="606.02" x2="241.85" y2="603.02" stroke="#333" stroke-width="0.6" />
<line x1="240.25" y1="603.02" x2="243.45" y2="603.02" stroke="#333" stroke-width="0.6" />
<rect x="254.70" y="589.19" width="6.40" height="46.41" fill="#521a6c"/>
<line x1="257.90" y1="589.19" x2="257.90" y2="585.69" stroke="#333" stroke-width="0.6" />
<line x1="256.30" y1="585.69" x2="259.50" y2="585.69" stroke="#333" stroke-width="0.6" />
<rect x="264.40" y="611.83" width="6.70" height="23.77" fill="#e2137f"/>
<line x1="267.75" y1="611.83" x2="267.75" y2="606.83" stroke="#333" stroke-width="0.6" />
<line x1="266.15" y1="606.83" x2="269.35" y2="606.83" stroke="#333" stroke-width="0.6" />
<rect x="280.70" y="534.11" width="6.50" height="101.49" fill="#521a6c"/>
<line x1="283.95" y1="534.11" x2="283.95" y2="533.51" stroke="#333" stroke-width="0.6" />
<line x1="282.35" y1="533.51" x2="285.55" y2="533.51" stroke="#333" stroke-width="0.6" />
<rect x="290.20" y="534.11" width="6.80" height="101.49" fill="#e2137f"/>
<line x1="293.60" y1="534.11" x2="293.60" y2="533.51" stroke="#333" stroke-width="0.6" />
<line x1="292.00" y1="533.51" x2="295.20" y2="533.51" stroke="#333" stroke-width="0.6" />
<rect x="306.90" y="627.95" width="6.30" height="7.65" fill="#521a6c"/>
<line x1="310.05" y1="627.95" x2="310.05" y2="626.95" stroke="#333" stroke-width="0.6" />
<line x1="308.45" y1="626.95" x2="311.65" y2="626.95" stroke="#333" stroke-width="0.6" />
<rect x="316.40" y="627.95" width="6.40" height="7.65" fill="#e2137f"/>
<line x1="319.60" y1="627.95" x2="319.60" y2="626.95" stroke="#333" stroke-width="0.6" />
<line x1="318.00" y1="626.95" x2="321.20" y2="626.95" stroke="#333" stroke-width="0.6" />
<rect x="333.00" y="620.81" width="5.90" height="14.79" fill="#521a6c"/>
<line x1="335.95" y1="620.81" x2="335.95" y2="619.31" stroke="#333" stroke-width="0.6" />
<line x1="334.35" y1="619.31" x2="337.55" y2="619.31" stroke="#333" stroke-width="0.6" />
<rect x="342.30" y="626.93" width="6.40" height="8.67" fill="#e2137f"/>
<line x1="345.50" y1="626.93" x2="345.50" y2="625.93" stroke="#333" stroke-width="0.6" />
<line x1="343.90" y1="625.93" x2="347.10" y2="625.93" stroke="#333" stroke-width="0.6" />
<circle cx="206.00" cy="572.40" r="1.6" fill="#fff" stroke="#222" stroke-width="0.8"/>
<circle cx="206.00" cy="585.90" r="1.6" fill="#fff" stroke="#222" stroke-width="0.8"/>
<circle cx="206.00" cy="591.20" r="1.6" fill="#fff" stroke="#222" stroke-width="0.8"/>
<circle cx="206.00" cy="594.10" r="1.6" fill="#fff" stroke="#222" stroke-width="0.8"/>
<circle cx="206.00" cy="603.00" r="1.6" fill="#fff" stroke="#222" stroke-width="0.8"/>
<circle cx="203.90" cy="617.40" r="1.6" fill="#fff" stroke="#222" stroke-width="0.8"/>
<circle cx="207.60" cy="617.10" r="1.6" fill="#fff" stroke="#222" stroke-width="0.8"/>
<circle cx="215.60" cy="594.70" r="1.6" fill="#fff" stroke="#222" stroke-width="0.8"/>
<circle cx="213.90" cy="603.00" r="1.6" fill="#fff" stroke="#222" stroke-width="0.8"/>
<circle cx="217.40" cy="604.50" r="1.6" fill="#fff" stroke="#222" stroke-width="0.8"/>
<circle cx="215.60" cy="610.00" r="1.6" fill="#fff" stroke="#222" stroke-width="0.8"/>
<circle cx="217.40" cy="613.90" r="1.6" fill="#fff" stroke="#222" stroke-width="0.8"/>
<circle cx="213.90" cy="617.10" r="1.6" fill="#fff" stroke="#222" stroke-width="0.8"/>
<circle cx="232.10" cy="582.40" r="1.6" fill="#fff" stroke="#222" stroke-width="0.8"/>
<circle cx="230.50" cy="590.40" r="1.6" fill="#fff" stroke="#222" stroke-width="0.8"/>
<circle cx="234.00" cy="591.80" r="1.6" fill="#fff" stroke="#222" stroke-width="0.8"/>
<circle cx="231.00" cy="594.10" r="1.6" fill="#fff" stroke="#222" stroke-width="0.8"/>
<circle cx="234.50" cy="596.50" r="1.6" fill="#fff" stroke="#222" stroke-width="0.8"/>
<circle cx="232.10" cy="598.80" r="1.6" fill="#fff" stroke="#222" stroke-width="0.8"/>
<circle cx="232.10" cy="606.50" r="1.6" fill="#fff" stroke="#222" stroke-width="0.8"/>
<circle cx="241.80" cy="587.90" r="1.6" fill="#fff" stroke="#222" stroke-width="0.8"/>
<circle cx="241.80" cy="595.90" r="1.6" fill="#fff" stroke="#222" stroke-width="0.8"/>
<circle cx="241.80" cy="599.10" r="1.6" fill="#fff" stroke="#222" stroke-width="0.8"/>
<circle cx="241.80" cy="603.30" r="1.6" fill="#fff" stroke="#222" stroke-width="0.8"/>
<circle cx="240.00" cy="607.60" r="1.6" fill="#fff" stroke="#222" stroke-width="0.8"/>
<circle cx="243.50" cy="610.00" r="1.6" fill="#fff" stroke="#222" stroke-width="0.8"/>
<circle cx="240.00" cy="614.70" r="1.6" fill="#fff" stroke="#222" stroke-width="0.8"/>
<circle cx="243.50" cy="614.70" r="1.6" fill="#fff" stroke="#222" stroke-width="0.8"/>
<circle cx="257.60" cy="571.00" r="1.6" fill="#fff" stroke="#222" stroke-width="0.8"/>
<circle cx="256.00" cy="579.90" r="1.6" fill="#fff" stroke="#222" stroke-width="0.8"/>
<circle cx="258.50" cy="580.70" r="1.6" fill="#fff" stroke="#222" stroke-width="0.8"/>
<circle cx="257.00" cy="583.30" r="1.6" fill="#fff" stroke="#222" stroke-width="0.8"/>
<circle cx="259.00" cy="585.00" r="1.6" fill="#fff" stroke="#222" stroke-width="0.8"/>
<circle cx="256.00" cy="591.70" r="1.6" fill="#fff" stroke="#222" stroke-width="0.8"/>
<circle cx="259.00" cy="594.30" r="1.6" fill="#fff" stroke="#222" stroke-width="0.8"/>
<circle cx="257.60" cy="599.30" r="1.6" fill="#fff" stroke="#222" stroke-width="0.8"/>
<circle cx="257.60" cy="610.80" r="1.6" fill="#fff" stroke="#222" stroke-width="0.8"/>
<circle cx="267.40" cy="588.90" r="1.6" fill="#fff" stroke="#222" stroke-width="0.8"/>
<circle cx="267.40" cy="596.00" r="1.6" fill="#fff" stroke="#222" stroke-width="0.8"/>
<circle cx="267.40" cy="599.30" r="1.6" fill="#fff" stroke="#222" stroke-width="0.8"/>
<circle cx="267.40" cy="608.60" r="1.6" fill="#fff" stroke="#222" stroke-width="0.8"/>
<circle cx="266.00" cy="617.10" r="1.6" fill="#fff" stroke="#222" stroke-width="0.8"/>
<circle cx="269.00" cy="617.10" r="1.6" fill="#fff" stroke="#222" stroke-width="0.8"/>
<circle cx="267.40" cy="631.10" r="1.6" fill="#fff" stroke="#222" stroke-width="0.8"/>
<circle cx="283.00" cy="533.60" r="1.6" fill="#fff" stroke="#222" stroke-width="0.8"/>
<circle cx="286.00" cy="533.60" r="1.6" fill="#fff" stroke="#222" stroke-width="0.8"/>
<circle cx="284.50" cy="535.60" r="1.6" fill="#fff" stroke="#222" stroke-width="0.8"/>
<circle cx="283.70" cy="537.70" r="1.6" fill="#fff" stroke="#222" stroke-width="0.8"/>
<circle cx="292.00" cy="533.60" r="1.6" fill="#fff" stroke="#222" stroke-width="0.8"/>
<circle cx="295.50" cy="533.60" r="1.6" fill="#fff" stroke="#222" stroke-width="0.8"/>
<circle cx="293.80" cy="535.60" r="1.6" fill="#fff" stroke="#222" stroke-width="0.8"/>
<circle cx="310.00" cy="625.40" r="1.6" fill="#fff" stroke="#222" stroke-width="0.8"/>
<circle cx="308.00" cy="628.00" r="1.6" fill="#fff" stroke="#222" stroke-width="0.8"/>
<circle cx="312.00" cy="628.00" r="1.6" fill="#fff" stroke="#222" stroke-width="0.8"/>
<circle cx="310.00" cy="630.20" r="1.6" fill="#fff" stroke="#222" stroke-width="0.8"/>
<circle cx="319.60" cy="624.30" r="1.6" fill="#fff" stroke="#222" stroke-width="0.8"/>
<circle cx="318.00" cy="626.50" r="1.6" fill="#fff" stroke="#222" stroke-width="0.8"/>
<circle cx="321.00" cy="626.50" r="1.6" fill="#fff" stroke="#222" stroke-width="0.8"/>
<circle cx="319.60" cy="629.10" r="1.6" fill="#fff" stroke="#222" stroke-width="0.8"/>
<circle cx="335.50" cy="615.90" r="1.6" fill="#fff" stroke="#222" stroke-width="0.8"/>
<circle cx="337.50" cy="615.30" r="1.6" fill="#fff" stroke="#222" stroke-width="0.8"/>
<circle cx="334.00" cy="618.00" r="1.6" fill="#fff" stroke="#222" stroke-width="0.8"/>
<circle cx="336.00" cy="620.60" r="1.6" fill="#fff" stroke="#222" stroke-width="0.8"/>
<circle cx="334.00" cy="622.20" r="1.6" fill="#fff" stroke="#222" stroke-width="0.8"/>
<circle cx="337.00" cy="624.90" r="1.6" fill="#fff" stroke="#222" stroke-width="0.8"/>
<circle cx="335.00" cy="627.00" r="1.6" fill="#fff" stroke="#222" stroke-width="0.8"/>
<circle cx="333.50" cy="628.00" r="1.6" fill="#fff" stroke="#222" stroke-width="0.8"/>
<circle cx="343.50" cy="622.20" r="1.6" fill="#fff" stroke="#222" stroke-width="0.8"/>
<circle cx="347.00" cy="622.80" r="1.6" fill="#fff" stroke="#222" stroke-width="0.8"/>
<circle cx="344.50" cy="625.40" r="1.6" fill="#fff" stroke="#222" stroke-width="0.8"/>
<circle cx="347.50" cy="625.40" r="1.6" fill="#fff" stroke="#222" stroke-width="0.8"/>
<circle cx="345.00" cy="628.00" r="1.6" fill="#fff" stroke="#222" stroke-width="0.8"/>
<line x1="199.70" y1="531.00" x2="199.70" y2="636.00" stroke="#222" stroke-width="0.9" />
<line x1="199.30" y1="635.60" x2="352.00" y2="635.60" stroke="#222" stroke-width="0.9" />
<line x1="196.50" y1="635.60" x2="199.70" y2="635.60" stroke="#222" stroke-width="0.8" />
<text x="193.50" y="637.95" font-size="6.6" text-anchor="end" fill="#2a2a2a" >0</text>
<line x1="196.50" y1="584.60" x2="199.70" y2="584.60" stroke="#222" stroke-width="0.8" />
<text x="193.50" y="586.95" font-size="6.6" text-anchor="end" fill="#2a2a2a" >50</text>
<line x1="196.50" y1="533.60" x2="199.70" y2="533.60" stroke="#222" stroke-width="0.8" />
<text x="193.50" y="535.95" font-size="6.6" text-anchor="end" fill="#2a2a2a" >100</text>
<line x1="197.90" y1="625.40" x2="199.70" y2="625.40" stroke="#222" stroke-width="0.5" />
<line x1="197.90" y1="615.20" x2="199.70" y2="615.20" stroke="#222" stroke-width="0.5" />
<line x1="197.90" y1="605.00" x2="199.70" y2="605.00" stroke="#222" stroke-width="0.5" />
<line x1="197.90" y1="594.80" x2="199.70" y2="594.80" stroke="#222" stroke-width="0.5" />
<line x1="197.90" y1="574.40" x2="199.70" y2="574.40" stroke="#222" stroke-width="0.5" />
<line x1="197.90" y1="564.20" x2="199.70" y2="564.20" stroke="#222" stroke-width="0.5" />
<line x1="197.90" y1="554.00" x2="199.70" y2="554.00" stroke="#222" stroke-width="0.5" />
<line x1="197.90" y1="543.80" x2="199.70" y2="543.80" stroke="#222" stroke-width="0.5" />
<line x1="202.80" y1="534.00" x2="218.70" y2="534.00" stroke="#222" stroke-width="1.1" />
<text x="210.75" y="532.50" font-size="6.4" text-anchor="middle" fill="#222" >ns</text>
<line x1="228.70" y1="534.00" x2="245.00" y2="534.00" stroke="#222" stroke-width="1.1" />
<text x="236.85" y="535.00" font-size="6.4" text-anchor="middle" fill="#222" >*</text>
<line x1="254.70" y1="534.00" x2="270.60" y2="534.00" stroke="#222" stroke-width="1.1" />
<text x="262.65" y="535.00" font-size="6.4" text-anchor="middle" fill="#222" >***</text>
<line x1="332.80" y1="534.00" x2="348.70" y2="534.00" stroke="#222" stroke-width="1.1" />
<text x="340.75" y="535.00" font-size="6.4" text-anchor="middle" fill="#222" >*</text>
<line x1="211.00" y1="635.60" x2="211.00" y2="638.00" stroke="#222" stroke-width="0.8" />
<text font-size="7.0" fill="#222" text-anchor="end" transform="translate(214.40,644.40) rotate(-45)">CLP</text>
<line x1="237.00" y1="635.60" x2="237.00" y2="638.00" stroke="#222" stroke-width="0.8" />
<text font-size="7.0" fill="#222" text-anchor="end" transform="translate(240.40,644.40) rotate(-45)">pro-B</text>
<line x1="262.80" y1="635.60" x2="262.80" y2="638.00" stroke="#222" stroke-width="0.8" />
<text font-size="7.0" fill="#222" text-anchor="end" transform="translate(266.20,644.40) rotate(-45)">pre-BI</text>
<line x1="289.00" y1="635.60" x2="289.00" y2="638.00" stroke="#222" stroke-width="0.8" />
<text font-size="7.0" fill="#222" text-anchor="end" transform="translate(292.40,644.40) rotate(-45)">pre-BII large</text>
<line x1="314.70" y1="635.60" x2="314.70" y2="638.00" stroke="#222" stroke-width="0.8" />
<text font-size="7.0" fill="#222" text-anchor="end" transform="translate(318.10,644.40) rotate(-45)">pre-BII small</text>
<line x1="340.60" y1="635.60" x2="340.60" y2="638.00" stroke="#222" stroke-width="0.8" />
<text font-size="7.0" fill="#222" text-anchor="end" transform="translate(344.00,644.40) rotate(-45)">immature</text>
<text x="0.00" y="0.00" font-size="6.6" text-anchor="middle" fill="#2a2a2a" transform="translate(176.6,583.5) rotate(-90)">% of population</text>
<rect x="0" y="0" width="520" height="1" fill="#5a5a5a"/><rect x="0" y="0" width="1" height="680" fill="#555"/><rect x="519" y="0" width="1" height="680" fill="#3a3a3a"/><rect x="0" y="679" width="520" height="1" fill="#333"/>
</svg>
</body></html>
